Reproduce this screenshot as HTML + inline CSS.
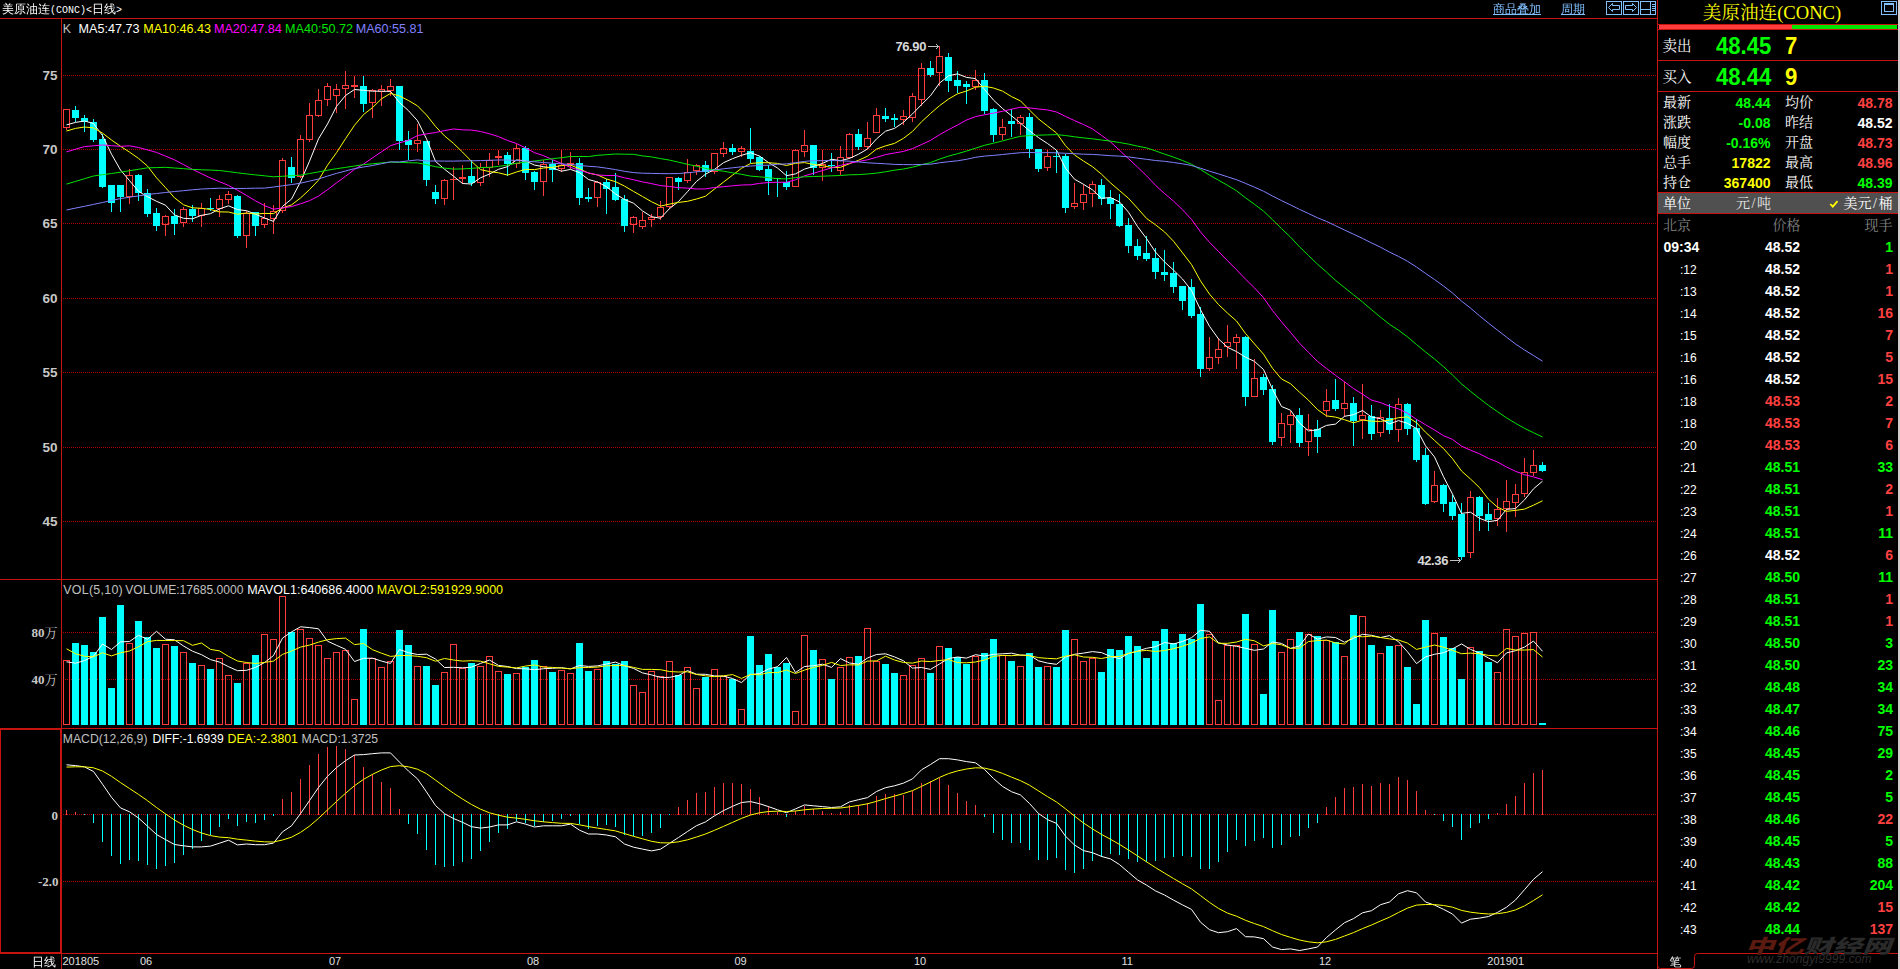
<!DOCTYPE html>
<html lang="zh-CN"><head><meta charset="utf-8"><title>美原油连(CONC) 日线</title>
<style>
html,body{margin:0;padding:0;background:#000;}
#app{position:relative;width:1900px;height:969px;background:#000;overflow:hidden;}
.t{position:absolute;white-space:nowrap;}
.m{font-family:'Liberation Mono',monospace;font-size:10px;}
.sl{display:inline-block;width:7px;text-align:center;}
</style></head><body>
<div id="app">
<svg width="1900" height="969" viewBox="0 0 1900 969" style="position:absolute;left:0;top:0">
<g stroke="#b00000" stroke-width="1" stroke-dasharray="1 1" shape-rendering="crispEdges">
<line x1="63" y1="75.5" x2="1657" y2="75.5"/>
<line x1="63" y1="149.5" x2="1657" y2="149.5"/>
<line x1="63" y1="223.5" x2="1657" y2="223.5"/>
<line x1="63" y1="298.5" x2="1657" y2="298.5"/>
<line x1="63" y1="372.5" x2="1657" y2="372.5"/>
<line x1="63" y1="447.5" x2="1657" y2="447.5"/>
<line x1="63" y1="521.5" x2="1657" y2="521.5"/>
<line x1="63" y1="632.5" x2="1657" y2="632.5"/>
<line x1="63" y1="679.5" x2="1657" y2="679.5"/>
<line x1="63" y1="814.5" x2="1657" y2="814.5"/>
<line x1="63" y1="881.5" x2="1657" y2="881.5"/>
</g>
<g shape-rendering="crispEdges">
<rect x="66" y="128" width="1" height="2" fill="#ff3c3c"/>
<rect x="63.5" y="109.5" width="6" height="18" fill="none" stroke="#ff3c3c" stroke-width="1"/>
<rect x="75" y="106" width="1" height="16" fill="#00ffff"/>
<rect x="72" y="110" width="7" height="8" fill="#00ffff"/>
<rect x="84" y="115" width="1" height="17" fill="#00ffff"/>
<rect x="81" y="118" width="7" height="4" fill="#00ffff"/>
<rect x="93" y="119" width="1" height="23" fill="#00ffff"/>
<rect x="90" y="122" width="7" height="18" fill="#00ffff"/>
<rect x="102" y="134" width="1" height="54" fill="#00ffff"/>
<rect x="99" y="139" width="7" height="48" fill="#00ffff"/>
<rect x="111" y="185" width="1" height="27" fill="#00ffff"/>
<rect x="108" y="185" width="7" height="18" fill="#00ffff"/>
<rect x="120" y="185" width="1" height="27" fill="#00ffff"/>
<rect x="117" y="185" width="7" height="12" fill="#00ffff"/>
<rect x="129" y="169" width="1" height="6" fill="#ff3c3c"/>
<rect x="129" y="197" width="1" height="7" fill="#ff3c3c"/>
<rect x="126.5" y="175.5" width="6" height="21" fill="none" stroke="#ff3c3c" stroke-width="1"/>
<rect x="138" y="174" width="1" height="27" fill="#00ffff"/>
<rect x="135" y="175" width="7" height="18" fill="#00ffff"/>
<rect x="147" y="189" width="1" height="28" fill="#00ffff"/>
<rect x="144" y="193" width="7" height="21" fill="#00ffff"/>
<rect x="156" y="208" width="1" height="23" fill="#00ffff"/>
<rect x="153" y="213" width="7" height="13" fill="#00ffff"/>
<rect x="165" y="215" width="1" height="1" fill="#ff3c3c"/>
<rect x="165" y="225" width="1" height="11" fill="#ff3c3c"/>
<rect x="162.5" y="216.5" width="6" height="8" fill="none" stroke="#ff3c3c" stroke-width="1"/>
<rect x="174" y="209" width="1" height="26" fill="#00ffff"/>
<rect x="171" y="216" width="7" height="8" fill="#00ffff"/>
<rect x="183" y="207" width="1" height="2" fill="#ff3c3c"/>
<rect x="183" y="223" width="1" height="4" fill="#ff3c3c"/>
<rect x="180.5" y="209.5" width="6" height="13" fill="none" stroke="#ff3c3c" stroke-width="1"/>
<rect x="192" y="205" width="1" height="17" fill="#00ffff"/>
<rect x="189" y="209" width="7" height="7" fill="#00ffff"/>
<rect x="201" y="203" width="1" height="5" fill="#ff3c3c"/>
<rect x="201" y="216" width="1" height="11" fill="#ff3c3c"/>
<rect x="198.5" y="208.5" width="6" height="7" fill="none" stroke="#ff3c3c" stroke-width="1"/>
<rect x="210" y="198" width="1" height="13" fill="#00ffff"/>
<rect x="207" y="208" width="7" height="1" fill="#00ffff"/>
<rect x="219" y="195" width="1" height="4" fill="#ff3c3c"/>
<rect x="219" y="209" width="1" height="8" fill="#ff3c3c"/>
<rect x="216.5" y="199.5" width="6" height="9" fill="none" stroke="#ff3c3c" stroke-width="1"/>
<rect x="228" y="191" width="1" height="3" fill="#ff3c3c"/>
<rect x="228" y="200" width="1" height="4" fill="#ff3c3c"/>
<rect x="225.5" y="194.5" width="6" height="5" fill="none" stroke="#ff3c3c" stroke-width="1"/>
<rect x="237" y="195" width="1" height="43" fill="#00ffff"/>
<rect x="234" y="196" width="7" height="40" fill="#00ffff"/>
<rect x="246" y="211" width="1" height="2" fill="#ff3c3c"/>
<rect x="246" y="236" width="1" height="12" fill="#ff3c3c"/>
<rect x="243.5" y="213.5" width="6" height="22" fill="none" stroke="#ff3c3c" stroke-width="1"/>
<rect x="255" y="212" width="1" height="24" fill="#00ffff"/>
<rect x="252" y="212" width="7" height="14" fill="#00ffff"/>
<rect x="264" y="203" width="1" height="15" fill="#ff3c3c"/>
<rect x="264" y="225" width="1" height="3" fill="#ff3c3c"/>
<rect x="261.5" y="218.5" width="6" height="6" fill="none" stroke="#ff3c3c" stroke-width="1"/>
<rect x="273" y="205" width="1" height="6" fill="#ff3c3c"/>
<rect x="273" y="219" width="1" height="15" fill="#ff3c3c"/>
<rect x="270.5" y="211.5" width="6" height="7" fill="none" stroke="#ff3c3c" stroke-width="1"/>
<rect x="282" y="158" width="1" height="2" fill="#ff3c3c"/>
<rect x="282" y="211" width="1" height="2" fill="#ff3c3c"/>
<rect x="279.5" y="160.5" width="6" height="50" fill="none" stroke="#ff3c3c" stroke-width="1"/>
<rect x="291" y="157" width="1" height="26" fill="#00ffff"/>
<rect x="288" y="167" width="7" height="11" fill="#00ffff"/>
<rect x="300" y="135" width="1" height="4" fill="#ff3c3c"/>
<rect x="300" y="177" width="1" height="1" fill="#ff3c3c"/>
<rect x="297.5" y="139.5" width="6" height="37" fill="none" stroke="#ff3c3c" stroke-width="1"/>
<rect x="309" y="103" width="1" height="12" fill="#ff3c3c"/>
<rect x="309" y="140" width="1" height="2" fill="#ff3c3c"/>
<rect x="306.5" y="115.5" width="6" height="24" fill="none" stroke="#ff3c3c" stroke-width="1"/>
<rect x="318" y="89" width="1" height="11" fill="#ff3c3c"/>
<rect x="318" y="116" width="1" height="1" fill="#ff3c3c"/>
<rect x="315.5" y="100.5" width="6" height="15" fill="none" stroke="#ff3c3c" stroke-width="1"/>
<rect x="327" y="83" width="1" height="3" fill="#ff3c3c"/>
<rect x="327" y="100" width="1" height="6" fill="#ff3c3c"/>
<rect x="324.5" y="86.5" width="6" height="13" fill="none" stroke="#ff3c3c" stroke-width="1"/>
<rect x="336" y="84" width="1" height="5" fill="#ff3c3c"/>
<rect x="336" y="96" width="1" height="17" fill="#ff3c3c"/>
<rect x="333.5" y="89.5" width="6" height="6" fill="none" stroke="#ff3c3c" stroke-width="1"/>
<rect x="345" y="71" width="1" height="14" fill="#ff3c3c"/>
<rect x="345" y="89" width="1" height="20" fill="#ff3c3c"/>
<rect x="342.5" y="85.5" width="6" height="3" fill="none" stroke="#ff3c3c" stroke-width="1"/>
<rect x="354" y="76" width="1" height="9" fill="#ff3c3c"/>
<rect x="354" y="87" width="1" height="11" fill="#ff3c3c"/>
<rect x="351" y="85" width="7" height="2" fill="#ff3c3c"/>
<rect x="363" y="76" width="1" height="36" fill="#00ffff"/>
<rect x="360" y="86" width="7" height="18" fill="#00ffff"/>
<rect x="372" y="89" width="1" height="1" fill="#ff3c3c"/>
<rect x="372" y="103" width="1" height="15" fill="#ff3c3c"/>
<rect x="369.5" y="90.5" width="6" height="12" fill="none" stroke="#ff3c3c" stroke-width="1"/>
<rect x="381" y="85" width="1" height="4" fill="#ff3c3c"/>
<rect x="381" y="92" width="1" height="14" fill="#ff3c3c"/>
<rect x="378.5" y="89.5" width="6" height="2" fill="none" stroke="#ff3c3c" stroke-width="1"/>
<rect x="390" y="79" width="1" height="7" fill="#ff3c3c"/>
<rect x="390" y="91" width="1" height="5" fill="#ff3c3c"/>
<rect x="387.5" y="86.5" width="6" height="4" fill="none" stroke="#ff3c3c" stroke-width="1"/>
<rect x="399" y="86" width="1" height="64" fill="#00ffff"/>
<rect x="396" y="86" width="7" height="55" fill="#00ffff"/>
<rect x="408" y="131" width="1" height="29" fill="#00ffff"/>
<rect x="405" y="140" width="7" height="5" fill="#00ffff"/>
<rect x="417" y="124" width="1" height="16" fill="#ff3c3c"/>
<rect x="417" y="144" width="1" height="8" fill="#ff3c3c"/>
<rect x="414.5" y="140.5" width="6" height="3" fill="none" stroke="#ff3c3c" stroke-width="1"/>
<rect x="426" y="141" width="1" height="45" fill="#00ffff"/>
<rect x="423" y="141" width="7" height="39" fill="#00ffff"/>
<rect x="435" y="185" width="1" height="19" fill="#00ffff"/>
<rect x="432" y="192" width="7" height="7" fill="#00ffff"/>
<rect x="444" y="179" width="1" height="1" fill="#ff3c3c"/>
<rect x="444" y="199" width="1" height="6" fill="#ff3c3c"/>
<rect x="441.5" y="180.5" width="6" height="18" fill="none" stroke="#ff3c3c" stroke-width="1"/>
<rect x="453" y="167" width="1" height="12" fill="#ff3c3c"/>
<rect x="453" y="180" width="1" height="20" fill="#ff3c3c"/>
<rect x="450" y="179" width="7" height="1" fill="#ff3c3c"/>
<rect x="462" y="165" width="1" height="12" fill="#ff3c3c"/>
<rect x="462" y="179" width="1" height="5" fill="#ff3c3c"/>
<rect x="459" y="177" width="7" height="2" fill="#ff3c3c"/>
<rect x="471" y="160" width="1" height="26" fill="#00ffff"/>
<rect x="468" y="176" width="7" height="7" fill="#00ffff"/>
<rect x="480" y="163" width="1" height="4" fill="#ff3c3c"/>
<rect x="480" y="183" width="1" height="3" fill="#ff3c3c"/>
<rect x="477.5" y="167.5" width="6" height="15" fill="none" stroke="#ff3c3c" stroke-width="1"/>
<rect x="489" y="153" width="1" height="7" fill="#ff3c3c"/>
<rect x="489" y="168" width="1" height="9" fill="#ff3c3c"/>
<rect x="486.5" y="160.5" width="6" height="7" fill="none" stroke="#ff3c3c" stroke-width="1"/>
<rect x="498" y="150" width="1" height="6" fill="#ff3c3c"/>
<rect x="498" y="158" width="1" height="7" fill="#ff3c3c"/>
<rect x="495" y="156" width="7" height="2" fill="#ff3c3c"/>
<rect x="507" y="152" width="1" height="24" fill="#00ffff"/>
<rect x="504" y="155" width="7" height="9" fill="#00ffff"/>
<rect x="516" y="144" width="1" height="4" fill="#ff3c3c"/>
<rect x="516" y="164" width="1" height="4" fill="#ff3c3c"/>
<rect x="513.5" y="148.5" width="6" height="15" fill="none" stroke="#ff3c3c" stroke-width="1"/>
<rect x="525" y="146" width="1" height="34" fill="#00ffff"/>
<rect x="522" y="148" width="7" height="25" fill="#00ffff"/>
<rect x="534" y="171" width="1" height="19" fill="#00ffff"/>
<rect x="531" y="172" width="7" height="10" fill="#00ffff"/>
<rect x="543" y="160" width="1" height="4" fill="#ff3c3c"/>
<rect x="543" y="182" width="1" height="14" fill="#ff3c3c"/>
<rect x="540.5" y="164.5" width="6" height="17" fill="none" stroke="#ff3c3c" stroke-width="1"/>
<rect x="552" y="160" width="1" height="22" fill="#00ffff"/>
<rect x="549" y="164" width="7" height="6" fill="#00ffff"/>
<rect x="561" y="150" width="1" height="15" fill="#ff3c3c"/>
<rect x="561" y="169" width="1" height="3" fill="#ff3c3c"/>
<rect x="558.5" y="165.5" width="6" height="3" fill="none" stroke="#ff3c3c" stroke-width="1"/>
<rect x="570" y="152" width="1" height="11" fill="#ff3c3c"/>
<rect x="570" y="165" width="1" height="4" fill="#ff3c3c"/>
<rect x="567" y="163" width="7" height="2" fill="#ff3c3c"/>
<rect x="579" y="158" width="1" height="47" fill="#00ffff"/>
<rect x="576" y="163" width="7" height="35" fill="#00ffff"/>
<rect x="588" y="188" width="1" height="14" fill="#00ffff"/>
<rect x="585" y="197" width="7" height="2" fill="#00ffff"/>
<rect x="597" y="181" width="1" height="1" fill="#ff3c3c"/>
<rect x="597" y="198" width="1" height="9" fill="#ff3c3c"/>
<rect x="594.5" y="182.5" width="6" height="15" fill="none" stroke="#ff3c3c" stroke-width="1"/>
<rect x="606" y="179" width="1" height="35" fill="#00ffff"/>
<rect x="603" y="182" width="7" height="7" fill="#00ffff"/>
<rect x="615" y="173" width="1" height="28" fill="#00ffff"/>
<rect x="612" y="187" width="7" height="13" fill="#00ffff"/>
<rect x="624" y="195" width="1" height="37" fill="#00ffff"/>
<rect x="621" y="199" width="7" height="27" fill="#00ffff"/>
<rect x="633" y="216" width="1" height="1" fill="#ff3c3c"/>
<rect x="633" y="225" width="1" height="8" fill="#ff3c3c"/>
<rect x="630.5" y="217.5" width="6" height="7" fill="none" stroke="#ff3c3c" stroke-width="1"/>
<rect x="642" y="212" width="1" height="8" fill="#ff3c3c"/>
<rect x="642" y="227" width="1" height="2" fill="#ff3c3c"/>
<rect x="639.5" y="220.5" width="6" height="6" fill="none" stroke="#ff3c3c" stroke-width="1"/>
<rect x="651" y="214" width="1" height="3" fill="#ff3c3c"/>
<rect x="651" y="220" width="1" height="7" fill="#ff3c3c"/>
<rect x="648.5" y="217.5" width="6" height="2" fill="none" stroke="#ff3c3c" stroke-width="1"/>
<rect x="660" y="201" width="1" height="6" fill="#ff3c3c"/>
<rect x="660" y="217" width="1" height="3" fill="#ff3c3c"/>
<rect x="657.5" y="207.5" width="6" height="9" fill="none" stroke="#ff3c3c" stroke-width="1"/>
<rect x="669" y="207" width="1" height="2" fill="#ff3c3c"/>
<rect x="666.5" y="177.5" width="6" height="29" fill="none" stroke="#ff3c3c" stroke-width="1"/>
<rect x="678" y="177" width="1" height="13" fill="#00ffff"/>
<rect x="675" y="178" width="7" height="4" fill="#00ffff"/>
<rect x="687" y="159" width="1" height="13" fill="#ff3c3c"/>
<rect x="687" y="181" width="1" height="2" fill="#ff3c3c"/>
<rect x="684.5" y="172.5" width="6" height="8" fill="none" stroke="#ff3c3c" stroke-width="1"/>
<rect x="696" y="164" width="1" height="1" fill="#ff3c3c"/>
<rect x="696" y="171" width="1" height="4" fill="#ff3c3c"/>
<rect x="693.5" y="165.5" width="6" height="5" fill="none" stroke="#ff3c3c" stroke-width="1"/>
<rect x="705" y="161" width="1" height="16" fill="#00ffff"/>
<rect x="702" y="165" width="7" height="7" fill="#00ffff"/>
<rect x="714" y="172" width="1" height="2" fill="#ff3c3c"/>
<rect x="711.5" y="153.5" width="6" height="18" fill="none" stroke="#ff3c3c" stroke-width="1"/>
<rect x="723" y="142" width="1" height="6" fill="#ff3c3c"/>
<rect x="723" y="154" width="1" height="3" fill="#ff3c3c"/>
<rect x="720.5" y="148.5" width="6" height="5" fill="none" stroke="#ff3c3c" stroke-width="1"/>
<rect x="732" y="144" width="1" height="11" fill="#00ffff"/>
<rect x="729" y="148" width="7" height="4" fill="#00ffff"/>
<rect x="741" y="146" width="1" height="2" fill="#ff3c3c"/>
<rect x="741" y="152" width="1" height="5" fill="#ff3c3c"/>
<rect x="738.5" y="148.5" width="6" height="3" fill="none" stroke="#ff3c3c" stroke-width="1"/>
<rect x="750" y="128" width="1" height="35" fill="#00ffff"/>
<rect x="747" y="151" width="7" height="8" fill="#00ffff"/>
<rect x="759" y="156" width="1" height="15" fill="#00ffff"/>
<rect x="756" y="157" width="7" height="13" fill="#00ffff"/>
<rect x="768" y="165" width="1" height="30" fill="#00ffff"/>
<rect x="765" y="169" width="7" height="12" fill="#00ffff"/>
<rect x="777" y="178" width="1" height="19" fill="#00ffff"/>
<rect x="774" y="178" width="7" height="1" fill="#00ffff"/>
<rect x="786" y="171" width="1" height="19" fill="#00ffff"/>
<rect x="783" y="182" width="7" height="5" fill="#00ffff"/>
<rect x="795" y="149" width="1" height="1" fill="#ff3c3c"/>
<rect x="792.5" y="150.5" width="6" height="36" fill="none" stroke="#ff3c3c" stroke-width="1"/>
<rect x="804" y="130" width="1" height="15" fill="#ff3c3c"/>
<rect x="804" y="152" width="1" height="5" fill="#ff3c3c"/>
<rect x="801.5" y="145.5" width="6" height="6" fill="none" stroke="#ff3c3c" stroke-width="1"/>
<rect x="813" y="145" width="1" height="30" fill="#00ffff"/>
<rect x="810" y="145" width="7" height="23" fill="#00ffff"/>
<rect x="822" y="150" width="1" height="14" fill="#ff3c3c"/>
<rect x="822" y="168" width="1" height="13" fill="#ff3c3c"/>
<rect x="819.5" y="164.5" width="6" height="3" fill="none" stroke="#ff3c3c" stroke-width="1"/>
<rect x="831" y="153" width="1" height="19" fill="#00ffff"/>
<rect x="828" y="165" width="7" height="1" fill="#00ffff"/>
<rect x="840" y="146" width="1" height="11" fill="#ff3c3c"/>
<rect x="840" y="171" width="1" height="4" fill="#ff3c3c"/>
<rect x="837.5" y="157.5" width="6" height="13" fill="none" stroke="#ff3c3c" stroke-width="1"/>
<rect x="849" y="133" width="1" height="1" fill="#ff3c3c"/>
<rect x="849" y="158" width="1" height="1" fill="#ff3c3c"/>
<rect x="846.5" y="134.5" width="6" height="23" fill="none" stroke="#ff3c3c" stroke-width="1"/>
<rect x="858" y="129" width="1" height="21" fill="#00ffff"/>
<rect x="855" y="134" width="7" height="13" fill="#00ffff"/>
<rect x="867" y="122" width="1" height="16" fill="#ff3c3c"/>
<rect x="867" y="147" width="1" height="2" fill="#ff3c3c"/>
<rect x="864.5" y="138.5" width="6" height="8" fill="none" stroke="#ff3c3c" stroke-width="1"/>
<rect x="876" y="108" width="1" height="7" fill="#ff3c3c"/>
<rect x="873.5" y="115.5" width="6" height="17" fill="none" stroke="#ff3c3c" stroke-width="1"/>
<rect x="885" y="108" width="1" height="14" fill="#00ffff"/>
<rect x="882" y="116" width="7" height="3" fill="#00ffff"/>
<rect x="894" y="114" width="1" height="13" fill="#00ffff"/>
<rect x="891" y="118" width="7" height="2" fill="#00ffff"/>
<rect x="903" y="110" width="1" height="6" fill="#ff3c3c"/>
<rect x="903" y="120" width="1" height="5" fill="#ff3c3c"/>
<rect x="900.5" y="116.5" width="6" height="3" fill="none" stroke="#ff3c3c" stroke-width="1"/>
<rect x="912" y="93" width="1" height="3" fill="#ff3c3c"/>
<rect x="912" y="118" width="1" height="4" fill="#ff3c3c"/>
<rect x="909.5" y="96.5" width="6" height="21" fill="none" stroke="#ff3c3c" stroke-width="1"/>
<rect x="921" y="63" width="1" height="5" fill="#ff3c3c"/>
<rect x="921" y="100" width="1" height="6" fill="#ff3c3c"/>
<rect x="918.5" y="68.5" width="6" height="31" fill="none" stroke="#ff3c3c" stroke-width="1"/>
<rect x="930" y="61" width="1" height="16" fill="#00ffff"/>
<rect x="927" y="68" width="7" height="7" fill="#00ffff"/>
<rect x="939" y="46" width="1" height="10" fill="#ff3c3c"/>
<rect x="939" y="73" width="1" height="13" fill="#ff3c3c"/>
<rect x="936.5" y="56.5" width="6" height="16" fill="none" stroke="#ff3c3c" stroke-width="1"/>
<rect x="948" y="53" width="1" height="39" fill="#00ffff"/>
<rect x="945" y="57" width="7" height="24" fill="#00ffff"/>
<rect x="957" y="71" width="1" height="22" fill="#00ffff"/>
<rect x="954" y="80" width="7" height="6" fill="#00ffff"/>
<rect x="966" y="81" width="1" height="23" fill="#00ffff"/>
<rect x="963" y="84" width="7" height="3" fill="#00ffff"/>
<rect x="975" y="70" width="1" height="10" fill="#ff3c3c"/>
<rect x="975" y="87" width="1" height="3" fill="#ff3c3c"/>
<rect x="972.5" y="80.5" width="6" height="6" fill="none" stroke="#ff3c3c" stroke-width="1"/>
<rect x="984" y="73" width="1" height="41" fill="#00ffff"/>
<rect x="981" y="80" width="7" height="31" fill="#00ffff"/>
<rect x="993" y="108" width="1" height="34" fill="#00ffff"/>
<rect x="990" y="109" width="7" height="26" fill="#00ffff"/>
<rect x="1002" y="119" width="1" height="8" fill="#ff3c3c"/>
<rect x="1002" y="135" width="1" height="5" fill="#ff3c3c"/>
<rect x="999.5" y="127.5" width="6" height="7" fill="none" stroke="#ff3c3c" stroke-width="1"/>
<rect x="1011" y="109" width="1" height="28" fill="#00ffff"/>
<rect x="1008" y="121" width="7" height="3" fill="#00ffff"/>
<rect x="1020" y="115" width="1" height="2" fill="#ff3c3c"/>
<rect x="1020" y="124" width="1" height="11" fill="#ff3c3c"/>
<rect x="1017.5" y="117.5" width="6" height="6" fill="none" stroke="#ff3c3c" stroke-width="1"/>
<rect x="1029" y="113" width="1" height="45" fill="#00ffff"/>
<rect x="1026" y="117" width="7" height="32" fill="#00ffff"/>
<rect x="1038" y="149" width="1" height="23" fill="#00ffff"/>
<rect x="1035" y="149" width="7" height="20" fill="#00ffff"/>
<rect x="1047" y="150" width="1" height="6" fill="#ff3c3c"/>
<rect x="1047" y="168" width="1" height="3" fill="#ff3c3c"/>
<rect x="1044.5" y="156.5" width="6" height="11" fill="none" stroke="#ff3c3c" stroke-width="1"/>
<rect x="1056" y="150" width="1" height="23" fill="#00ffff"/>
<rect x="1053" y="156" width="7" height="1" fill="#00ffff"/>
<rect x="1065" y="154" width="1" height="59" fill="#00ffff"/>
<rect x="1062" y="156" width="7" height="52" fill="#00ffff"/>
<rect x="1074" y="183" width="1" height="20" fill="#ff3c3c"/>
<rect x="1074" y="207" width="1" height="2" fill="#ff3c3c"/>
<rect x="1071.5" y="203.5" width="6" height="3" fill="none" stroke="#ff3c3c" stroke-width="1"/>
<rect x="1083" y="184" width="1" height="10" fill="#ff3c3c"/>
<rect x="1083" y="203" width="1" height="7" fill="#ff3c3c"/>
<rect x="1080.5" y="194.5" width="6" height="8" fill="none" stroke="#ff3c3c" stroke-width="1"/>
<rect x="1092" y="181" width="1" height="3" fill="#ff3c3c"/>
<rect x="1092" y="194" width="1" height="13" fill="#ff3c3c"/>
<rect x="1089.5" y="184.5" width="6" height="9" fill="none" stroke="#ff3c3c" stroke-width="1"/>
<rect x="1101" y="179" width="1" height="26" fill="#00ffff"/>
<rect x="1098" y="185" width="7" height="14" fill="#00ffff"/>
<rect x="1110" y="190" width="1" height="29" fill="#00ffff"/>
<rect x="1107" y="198" width="7" height="6" fill="#00ffff"/>
<rect x="1119" y="194" width="1" height="33" fill="#00ffff"/>
<rect x="1116" y="204" width="7" height="22" fill="#00ffff"/>
<rect x="1128" y="218" width="1" height="35" fill="#00ffff"/>
<rect x="1125" y="225" width="7" height="21" fill="#00ffff"/>
<rect x="1137" y="239" width="1" height="21" fill="#00ffff"/>
<rect x="1134" y="246" width="7" height="10" fill="#00ffff"/>
<rect x="1146" y="236" width="1" height="25" fill="#00ffff"/>
<rect x="1143" y="253" width="7" height="6" fill="#00ffff"/>
<rect x="1155" y="248" width="1" height="31" fill="#00ffff"/>
<rect x="1152" y="258" width="7" height="14" fill="#00ffff"/>
<rect x="1164" y="250" width="1" height="31" fill="#00ffff"/>
<rect x="1161" y="272" width="7" height="3" fill="#00ffff"/>
<rect x="1173" y="262" width="1" height="31" fill="#00ffff"/>
<rect x="1170" y="273" width="7" height="14" fill="#00ffff"/>
<rect x="1182" y="286" width="1" height="24" fill="#00ffff"/>
<rect x="1179" y="286" width="7" height="15" fill="#00ffff"/>
<rect x="1191" y="279" width="1" height="39" fill="#00ffff"/>
<rect x="1188" y="287" width="7" height="29" fill="#00ffff"/>
<rect x="1200" y="307" width="1" height="70" fill="#00ffff"/>
<rect x="1197" y="314" width="7" height="55" fill="#00ffff"/>
<rect x="1209" y="337" width="1" height="20" fill="#ff3c3c"/>
<rect x="1209" y="369" width="1" height="2" fill="#ff3c3c"/>
<rect x="1206.5" y="357.5" width="6" height="11" fill="none" stroke="#ff3c3c" stroke-width="1"/>
<rect x="1218" y="338" width="1" height="11" fill="#ff3c3c"/>
<rect x="1218" y="358" width="1" height="6" fill="#ff3c3c"/>
<rect x="1215.5" y="349.5" width="6" height="8" fill="none" stroke="#ff3c3c" stroke-width="1"/>
<rect x="1227" y="325" width="1" height="17" fill="#ff3c3c"/>
<rect x="1227" y="347" width="1" height="10" fill="#ff3c3c"/>
<rect x="1224.5" y="342.5" width="6" height="4" fill="none" stroke="#ff3c3c" stroke-width="1"/>
<rect x="1236" y="334" width="1" height="3" fill="#ff3c3c"/>
<rect x="1236" y="343" width="1" height="26" fill="#ff3c3c"/>
<rect x="1233.5" y="337.5" width="6" height="5" fill="none" stroke="#ff3c3c" stroke-width="1"/>
<rect x="1245" y="336" width="1" height="70" fill="#00ffff"/>
<rect x="1242" y="337" width="7" height="60" fill="#00ffff"/>
<rect x="1254" y="359" width="1" height="19" fill="#ff3c3c"/>
<rect x="1251.5" y="378.5" width="6" height="18" fill="none" stroke="#ff3c3c" stroke-width="1"/>
<rect x="1263" y="374" width="1" height="21" fill="#00ffff"/>
<rect x="1260" y="377" width="7" height="13" fill="#00ffff"/>
<rect x="1272" y="385" width="1" height="60" fill="#00ffff"/>
<rect x="1269" y="389" width="7" height="53" fill="#00ffff"/>
<rect x="1281" y="413" width="1" height="10" fill="#ff3c3c"/>
<rect x="1281" y="438" width="1" height="8" fill="#ff3c3c"/>
<rect x="1278.5" y="423.5" width="6" height="14" fill="none" stroke="#ff3c3c" stroke-width="1"/>
<rect x="1290" y="411" width="1" height="4" fill="#ff3c3c"/>
<rect x="1290" y="425" width="1" height="18" fill="#ff3c3c"/>
<rect x="1287.5" y="415.5" width="6" height="9" fill="none" stroke="#ff3c3c" stroke-width="1"/>
<rect x="1299" y="408" width="1" height="39" fill="#00ffff"/>
<rect x="1296" y="415" width="7" height="28" fill="#00ffff"/>
<rect x="1308" y="414" width="1" height="15" fill="#ff3c3c"/>
<rect x="1308" y="442" width="1" height="14" fill="#ff3c3c"/>
<rect x="1305.5" y="429.5" width="6" height="12" fill="none" stroke="#ff3c3c" stroke-width="1"/>
<rect x="1317" y="420" width="1" height="33" fill="#00ffff"/>
<rect x="1314" y="429" width="7" height="8" fill="#00ffff"/>
<rect x="1326" y="389" width="1" height="12" fill="#ff3c3c"/>
<rect x="1326" y="411" width="1" height="6" fill="#ff3c3c"/>
<rect x="1323.5" y="401.5" width="6" height="9" fill="none" stroke="#ff3c3c" stroke-width="1"/>
<rect x="1335" y="379" width="1" height="32" fill="#00ffff"/>
<rect x="1332" y="400" width="7" height="9" fill="#00ffff"/>
<rect x="1344" y="382" width="1" height="21" fill="#ff3c3c"/>
<rect x="1344" y="409" width="1" height="8" fill="#ff3c3c"/>
<rect x="1341.5" y="403.5" width="6" height="5" fill="none" stroke="#ff3c3c" stroke-width="1"/>
<rect x="1353" y="397" width="1" height="49" fill="#00ffff"/>
<rect x="1350" y="403" width="7" height="18" fill="#00ffff"/>
<rect x="1362" y="384" width="1" height="31" fill="#ff3c3c"/>
<rect x="1362" y="420" width="1" height="19" fill="#ff3c3c"/>
<rect x="1359.5" y="415.5" width="6" height="4" fill="none" stroke="#ff3c3c" stroke-width="1"/>
<rect x="1371" y="405" width="1" height="35" fill="#00ffff"/>
<rect x="1368" y="416" width="7" height="18" fill="#00ffff"/>
<rect x="1380" y="410" width="1" height="7" fill="#ff3c3c"/>
<rect x="1380" y="433" width="1" height="4" fill="#ff3c3c"/>
<rect x="1377.5" y="417.5" width="6" height="15" fill="none" stroke="#ff3c3c" stroke-width="1"/>
<rect x="1389" y="404" width="1" height="30" fill="#00ffff"/>
<rect x="1386" y="418" width="7" height="12" fill="#00ffff"/>
<rect x="1398" y="398" width="1" height="6" fill="#ff3c3c"/>
<rect x="1398" y="430" width="1" height="12" fill="#ff3c3c"/>
<rect x="1395.5" y="404.5" width="6" height="25" fill="none" stroke="#ff3c3c" stroke-width="1"/>
<rect x="1407" y="403" width="1" height="32" fill="#00ffff"/>
<rect x="1404" y="404" width="7" height="25" fill="#00ffff"/>
<rect x="1416" y="419" width="1" height="43" fill="#00ffff"/>
<rect x="1413" y="428" width="7" height="32" fill="#00ffff"/>
<rect x="1425" y="448" width="1" height="57" fill="#00ffff"/>
<rect x="1422" y="455" width="7" height="49" fill="#00ffff"/>
<rect x="1434" y="471" width="1" height="14" fill="#ff3c3c"/>
<rect x="1434" y="502" width="1" height="1" fill="#ff3c3c"/>
<rect x="1431.5" y="485.5" width="6" height="16" fill="none" stroke="#ff3c3c" stroke-width="1"/>
<rect x="1443" y="484" width="1" height="28" fill="#00ffff"/>
<rect x="1440" y="485" width="7" height="19" fill="#00ffff"/>
<rect x="1452" y="495" width="1" height="25" fill="#00ffff"/>
<rect x="1449" y="502" width="7" height="14" fill="#00ffff"/>
<rect x="1461" y="503" width="1" height="57" fill="#00ffff"/>
<rect x="1458" y="514" width="7" height="43" fill="#00ffff"/>
<rect x="1470" y="491" width="1" height="6" fill="#ff3c3c"/>
<rect x="1470" y="553" width="1" height="5" fill="#ff3c3c"/>
<rect x="1467.5" y="497.5" width="6" height="55" fill="none" stroke="#ff3c3c" stroke-width="1"/>
<rect x="1479" y="496" width="1" height="35" fill="#00ffff"/>
<rect x="1476" y="497" width="7" height="19" fill="#00ffff"/>
<rect x="1488" y="503" width="1" height="28" fill="#00ffff"/>
<rect x="1485" y="514" width="7" height="6" fill="#00ffff"/>
<rect x="1497" y="498" width="1" height="11" fill="#ff3c3c"/>
<rect x="1497" y="519" width="1" height="7" fill="#ff3c3c"/>
<rect x="1494.5" y="509.5" width="6" height="9" fill="none" stroke="#ff3c3c" stroke-width="1"/>
<rect x="1506" y="480" width="1" height="21" fill="#ff3c3c"/>
<rect x="1506" y="509" width="1" height="23" fill="#ff3c3c"/>
<rect x="1503.5" y="501.5" width="6" height="7" fill="none" stroke="#ff3c3c" stroke-width="1"/>
<rect x="1515" y="484" width="1" height="10" fill="#ff3c3c"/>
<rect x="1515" y="503" width="1" height="14" fill="#ff3c3c"/>
<rect x="1512.5" y="494.5" width="6" height="8" fill="none" stroke="#ff3c3c" stroke-width="1"/>
<rect x="1524" y="458" width="1" height="14" fill="#ff3c3c"/>
<rect x="1524" y="494" width="1" height="3" fill="#ff3c3c"/>
<rect x="1521.5" y="472.5" width="6" height="21" fill="none" stroke="#ff3c3c" stroke-width="1"/>
<rect x="1533" y="450" width="1" height="15" fill="#ff3c3c"/>
<rect x="1533" y="473" width="1" height="3" fill="#ff3c3c"/>
<rect x="1530.5" y="465.5" width="6" height="7" fill="none" stroke="#ff3c3c" stroke-width="1"/>
<rect x="1542" y="462" width="1" height="10" fill="#00ffff"/>
<rect x="1539" y="465" width="7" height="6" fill="#00ffff"/>
</g>
<g shape-rendering="crispEdges">
<rect x="63.5" y="660.5" width="6" height="64" fill="none" stroke="#ff3c3c" stroke-width="1"/>
<rect x="72" y="643" width="7" height="82" fill="#00ffff"/>
<rect x="81" y="645" width="7" height="80" fill="#00ffff"/>
<rect x="90" y="652" width="7" height="73" fill="#00ffff"/>
<rect x="99" y="617" width="7" height="108" fill="#00ffff"/>
<rect x="108" y="688" width="7" height="37" fill="#00ffff"/>
<rect x="117" y="605" width="7" height="120" fill="#00ffff"/>
<rect x="126.5" y="643.5" width="6" height="81" fill="none" stroke="#ff3c3c" stroke-width="1"/>
<rect x="135" y="621" width="7" height="104" fill="#00ffff"/>
<rect x="144" y="637" width="7" height="88" fill="#00ffff"/>
<rect x="153" y="648" width="7" height="77" fill="#00ffff"/>
<rect x="162.5" y="644.5" width="6" height="80" fill="none" stroke="#ff3c3c" stroke-width="1"/>
<rect x="171" y="646" width="7" height="79" fill="#00ffff"/>
<rect x="180.5" y="652.5" width="6" height="72" fill="none" stroke="#ff3c3c" stroke-width="1"/>
<rect x="189" y="663" width="7" height="62" fill="#00ffff"/>
<rect x="198.5" y="665.5" width="6" height="59" fill="none" stroke="#ff3c3c" stroke-width="1"/>
<rect x="207" y="669" width="7" height="56" fill="#00ffff"/>
<rect x="216.5" y="658.5" width="6" height="66" fill="none" stroke="#ff3c3c" stroke-width="1"/>
<rect x="225.5" y="675.5" width="6" height="49" fill="none" stroke="#ff3c3c" stroke-width="1"/>
<rect x="234" y="683" width="7" height="42" fill="#00ffff"/>
<rect x="243.5" y="663.5" width="6" height="61" fill="none" stroke="#ff3c3c" stroke-width="1"/>
<rect x="252" y="655" width="7" height="70" fill="#00ffff"/>
<rect x="261.5" y="634.5" width="6" height="90" fill="none" stroke="#ff3c3c" stroke-width="1"/>
<rect x="270.5" y="639.5" width="6" height="85" fill="none" stroke="#ff3c3c" stroke-width="1"/>
<rect x="279.5" y="596.5" width="6" height="128" fill="none" stroke="#ff3c3c" stroke-width="1"/>
<rect x="288" y="632" width="7" height="93" fill="#00ffff"/>
<rect x="297.5" y="629.5" width="6" height="95" fill="none" stroke="#ff3c3c" stroke-width="1"/>
<rect x="306.5" y="638.5" width="6" height="86" fill="none" stroke="#ff3c3c" stroke-width="1"/>
<rect x="315.5" y="645.5" width="6" height="79" fill="none" stroke="#ff3c3c" stroke-width="1"/>
<rect x="324.5" y="658.5" width="6" height="66" fill="none" stroke="#ff3c3c" stroke-width="1"/>
<rect x="333.5" y="652.5" width="6" height="72" fill="none" stroke="#ff3c3c" stroke-width="1"/>
<rect x="342.5" y="650.5" width="6" height="74" fill="none" stroke="#ff3c3c" stroke-width="1"/>
<rect x="351.5" y="699.5" width="6" height="25" fill="none" stroke="#ff3c3c" stroke-width="1"/>
<rect x="360" y="629" width="7" height="96" fill="#00ffff"/>
<rect x="369.5" y="658.5" width="6" height="66" fill="none" stroke="#ff3c3c" stroke-width="1"/>
<rect x="378.5" y="667.5" width="6" height="57" fill="none" stroke="#ff3c3c" stroke-width="1"/>
<rect x="387.5" y="661.5" width="6" height="63" fill="none" stroke="#ff3c3c" stroke-width="1"/>
<rect x="396" y="630" width="7" height="95" fill="#00ffff"/>
<rect x="405" y="645" width="7" height="80" fill="#00ffff"/>
<rect x="414.5" y="666.5" width="6" height="58" fill="none" stroke="#ff3c3c" stroke-width="1"/>
<rect x="423" y="666" width="7" height="59" fill="#00ffff"/>
<rect x="432" y="685" width="7" height="40" fill="#00ffff"/>
<rect x="441.5" y="672.5" width="6" height="52" fill="none" stroke="#ff3c3c" stroke-width="1"/>
<rect x="450.5" y="644.5" width="6" height="80" fill="none" stroke="#ff3c3c" stroke-width="1"/>
<rect x="459.5" y="668.5" width="6" height="56" fill="none" stroke="#ff3c3c" stroke-width="1"/>
<rect x="468" y="663" width="7" height="62" fill="#00ffff"/>
<rect x="477.5" y="666.5" width="6" height="58" fill="none" stroke="#ff3c3c" stroke-width="1"/>
<rect x="486.5" y="656.5" width="6" height="68" fill="none" stroke="#ff3c3c" stroke-width="1"/>
<rect x="495.5" y="671.5" width="6" height="53" fill="none" stroke="#ff3c3c" stroke-width="1"/>
<rect x="504" y="674" width="7" height="51" fill="#00ffff"/>
<rect x="513.5" y="673.5" width="6" height="51" fill="none" stroke="#ff3c3c" stroke-width="1"/>
<rect x="522" y="667" width="7" height="58" fill="#00ffff"/>
<rect x="531" y="660" width="7" height="65" fill="#00ffff"/>
<rect x="540.5" y="666.5" width="6" height="58" fill="none" stroke="#ff3c3c" stroke-width="1"/>
<rect x="549" y="672" width="7" height="53" fill="#00ffff"/>
<rect x="558.5" y="670.5" width="6" height="54" fill="none" stroke="#ff3c3c" stroke-width="1"/>
<rect x="567.5" y="673.5" width="6" height="51" fill="none" stroke="#ff3c3c" stroke-width="1"/>
<rect x="576" y="643" width="7" height="82" fill="#00ffff"/>
<rect x="585" y="671" width="7" height="54" fill="#00ffff"/>
<rect x="594.5" y="669.5" width="6" height="55" fill="none" stroke="#ff3c3c" stroke-width="1"/>
<rect x="603" y="661" width="7" height="64" fill="#00ffff"/>
<rect x="612" y="664" width="7" height="61" fill="#00ffff"/>
<rect x="621" y="661" width="7" height="64" fill="#00ffff"/>
<rect x="630.5" y="685.5" width="6" height="39" fill="none" stroke="#ff3c3c" stroke-width="1"/>
<rect x="639.5" y="692.5" width="6" height="32" fill="none" stroke="#ff3c3c" stroke-width="1"/>
<rect x="648.5" y="671.5" width="6" height="53" fill="none" stroke="#ff3c3c" stroke-width="1"/>
<rect x="657.5" y="676.5" width="6" height="48" fill="none" stroke="#ff3c3c" stroke-width="1"/>
<rect x="666.5" y="661.5" width="6" height="63" fill="none" stroke="#ff3c3c" stroke-width="1"/>
<rect x="675" y="675" width="7" height="50" fill="#00ffff"/>
<rect x="684.5" y="667.5" width="6" height="57" fill="none" stroke="#ff3c3c" stroke-width="1"/>
<rect x="693.5" y="688.5" width="6" height="36" fill="none" stroke="#ff3c3c" stroke-width="1"/>
<rect x="702" y="677" width="7" height="48" fill="#00ffff"/>
<rect x="711.5" y="669.5" width="6" height="55" fill="none" stroke="#ff3c3c" stroke-width="1"/>
<rect x="720.5" y="676.5" width="6" height="48" fill="none" stroke="#ff3c3c" stroke-width="1"/>
<rect x="729" y="679" width="7" height="46" fill="#00ffff"/>
<rect x="738.5" y="709.5" width="6" height="15" fill="none" stroke="#ff3c3c" stroke-width="1"/>
<rect x="747" y="636" width="7" height="89" fill="#00ffff"/>
<rect x="756" y="665" width="7" height="60" fill="#00ffff"/>
<rect x="765" y="654" width="7" height="71" fill="#00ffff"/>
<rect x="774" y="667" width="7" height="58" fill="#00ffff"/>
<rect x="783" y="663" width="7" height="62" fill="#00ffff"/>
<rect x="792.5" y="711.5" width="6" height="13" fill="none" stroke="#ff3c3c" stroke-width="1"/>
<rect x="801.5" y="635.5" width="6" height="89" fill="none" stroke="#ff3c3c" stroke-width="1"/>
<rect x="810" y="650" width="7" height="75" fill="#00ffff"/>
<rect x="819.5" y="659.5" width="6" height="65" fill="none" stroke="#ff3c3c" stroke-width="1"/>
<rect x="828" y="679" width="7" height="46" fill="#00ffff"/>
<rect x="837.5" y="667.5" width="6" height="57" fill="none" stroke="#ff3c3c" stroke-width="1"/>
<rect x="846.5" y="657.5" width="6" height="67" fill="none" stroke="#ff3c3c" stroke-width="1"/>
<rect x="855" y="656" width="7" height="69" fill="#00ffff"/>
<rect x="864.5" y="628.5" width="6" height="96" fill="none" stroke="#ff3c3c" stroke-width="1"/>
<rect x="873.5" y="661.5" width="6" height="63" fill="none" stroke="#ff3c3c" stroke-width="1"/>
<rect x="882" y="664" width="7" height="61" fill="#00ffff"/>
<rect x="891" y="673" width="7" height="52" fill="#00ffff"/>
<rect x="900.5" y="675.5" width="6" height="49" fill="none" stroke="#ff3c3c" stroke-width="1"/>
<rect x="909.5" y="665.5" width="6" height="59" fill="none" stroke="#ff3c3c" stroke-width="1"/>
<rect x="918.5" y="658.5" width="6" height="66" fill="none" stroke="#ff3c3c" stroke-width="1"/>
<rect x="927" y="673" width="7" height="52" fill="#00ffff"/>
<rect x="936.5" y="646.5" width="6" height="78" fill="none" stroke="#ff3c3c" stroke-width="1"/>
<rect x="945" y="648" width="7" height="77" fill="#00ffff"/>
<rect x="954" y="657" width="7" height="68" fill="#00ffff"/>
<rect x="963" y="664" width="7" height="61" fill="#00ffff"/>
<rect x="972.5" y="656.5" width="6" height="68" fill="none" stroke="#ff3c3c" stroke-width="1"/>
<rect x="981" y="653" width="7" height="72" fill="#00ffff"/>
<rect x="990" y="639" width="7" height="86" fill="#00ffff"/>
<rect x="999.5" y="655.5" width="6" height="69" fill="none" stroke="#ff3c3c" stroke-width="1"/>
<rect x="1008" y="661" width="7" height="64" fill="#00ffff"/>
<rect x="1017.5" y="666.5" width="6" height="58" fill="none" stroke="#ff3c3c" stroke-width="1"/>
<rect x="1026" y="653" width="7" height="72" fill="#00ffff"/>
<rect x="1035" y="667" width="7" height="58" fill="#00ffff"/>
<rect x="1044.5" y="666.5" width="6" height="58" fill="none" stroke="#ff3c3c" stroke-width="1"/>
<rect x="1053" y="667" width="7" height="58" fill="#00ffff"/>
<rect x="1062" y="630" width="7" height="95" fill="#00ffff"/>
<rect x="1071.5" y="639.5" width="6" height="85" fill="none" stroke="#ff3c3c" stroke-width="1"/>
<rect x="1080.5" y="661.5" width="6" height="63" fill="none" stroke="#ff3c3c" stroke-width="1"/>
<rect x="1089.5" y="658.5" width="6" height="66" fill="none" stroke="#ff3c3c" stroke-width="1"/>
<rect x="1098" y="672" width="7" height="53" fill="#00ffff"/>
<rect x="1107" y="649" width="7" height="76" fill="#00ffff"/>
<rect x="1116" y="650" width="7" height="75" fill="#00ffff"/>
<rect x="1125" y="636" width="7" height="89" fill="#00ffff"/>
<rect x="1134" y="646" width="7" height="79" fill="#00ffff"/>
<rect x="1143" y="658" width="7" height="67" fill="#00ffff"/>
<rect x="1152" y="641" width="7" height="84" fill="#00ffff"/>
<rect x="1161" y="629" width="7" height="96" fill="#00ffff"/>
<rect x="1170" y="643" width="7" height="82" fill="#00ffff"/>
<rect x="1179" y="634" width="7" height="91" fill="#00ffff"/>
<rect x="1188" y="639" width="7" height="86" fill="#00ffff"/>
<rect x="1197" y="604" width="7" height="121" fill="#00ffff"/>
<rect x="1206.5" y="634.5" width="6" height="90" fill="none" stroke="#ff3c3c" stroke-width="1"/>
<rect x="1215.5" y="700.5" width="6" height="24" fill="none" stroke="#ff3c3c" stroke-width="1"/>
<rect x="1224.5" y="645.5" width="6" height="79" fill="none" stroke="#ff3c3c" stroke-width="1"/>
<rect x="1233.5" y="645.5" width="6" height="79" fill="none" stroke="#ff3c3c" stroke-width="1"/>
<rect x="1242" y="614" width="7" height="111" fill="#00ffff"/>
<rect x="1251.5" y="644.5" width="6" height="80" fill="none" stroke="#ff3c3c" stroke-width="1"/>
<rect x="1260" y="694" width="7" height="31" fill="#00ffff"/>
<rect x="1269" y="610" width="7" height="115" fill="#00ffff"/>
<rect x="1278.5" y="652.5" width="6" height="72" fill="none" stroke="#ff3c3c" stroke-width="1"/>
<rect x="1287.5" y="639.5" width="6" height="85" fill="none" stroke="#ff3c3c" stroke-width="1"/>
<rect x="1296" y="632" width="7" height="93" fill="#00ffff"/>
<rect x="1305.5" y="634.5" width="6" height="90" fill="none" stroke="#ff3c3c" stroke-width="1"/>
<rect x="1314" y="636" width="7" height="89" fill="#00ffff"/>
<rect x="1323.5" y="640.5" width="6" height="84" fill="none" stroke="#ff3c3c" stroke-width="1"/>
<rect x="1332" y="642" width="7" height="83" fill="#00ffff"/>
<rect x="1341.5" y="656.5" width="6" height="68" fill="none" stroke="#ff3c3c" stroke-width="1"/>
<rect x="1350" y="615" width="7" height="110" fill="#00ffff"/>
<rect x="1359.5" y="616.5" width="6" height="108" fill="none" stroke="#ff3c3c" stroke-width="1"/>
<rect x="1368" y="645" width="7" height="80" fill="#00ffff"/>
<rect x="1377.5" y="653.5" width="6" height="71" fill="none" stroke="#ff3c3c" stroke-width="1"/>
<rect x="1386" y="646" width="7" height="79" fill="#00ffff"/>
<rect x="1395.5" y="645.5" width="6" height="79" fill="none" stroke="#ff3c3c" stroke-width="1"/>
<rect x="1404" y="667" width="7" height="58" fill="#00ffff"/>
<rect x="1413" y="704" width="7" height="21" fill="#00ffff"/>
<rect x="1422" y="620" width="7" height="105" fill="#00ffff"/>
<rect x="1431.5" y="633.5" width="6" height="91" fill="none" stroke="#ff3c3c" stroke-width="1"/>
<rect x="1440" y="637" width="7" height="88" fill="#00ffff"/>
<rect x="1449" y="648" width="7" height="77" fill="#00ffff"/>
<rect x="1458" y="679" width="7" height="46" fill="#00ffff"/>
<rect x="1467.5" y="647.5" width="6" height="77" fill="none" stroke="#ff3c3c" stroke-width="1"/>
<rect x="1476" y="651" width="7" height="74" fill="#00ffff"/>
<rect x="1485" y="662" width="7" height="63" fill="#00ffff"/>
<rect x="1494.5" y="672.5" width="6" height="52" fill="none" stroke="#ff3c3c" stroke-width="1"/>
<rect x="1503.5" y="629.5" width="6" height="95" fill="none" stroke="#ff3c3c" stroke-width="1"/>
<rect x="1512.5" y="636.5" width="6" height="88" fill="none" stroke="#ff3c3c" stroke-width="1"/>
<rect x="1521.5" y="633.5" width="6" height="91" fill="none" stroke="#ff3c3c" stroke-width="1"/>
<rect x="1530.5" y="632.5" width="6" height="92" fill="none" stroke="#ff3c3c" stroke-width="1"/>
<rect x="1539" y="723" width="7" height="2" fill="#00ffff"/>
</g>
<g shape-rendering="crispEdges">
<rect x="66" y="810" width="1" height="5" fill="#ff3c3c"/>
<rect x="75" y="812" width="1" height="3" fill="#ff3c3c"/>
<rect x="84" y="814" width="1" height="1" fill="#00ffff"/>
<rect x="93" y="814" width="1" height="9" fill="#00ffff"/>
<rect x="102" y="814" width="1" height="28" fill="#00ffff"/>
<rect x="111" y="814" width="1" height="42" fill="#00ffff"/>
<rect x="120" y="814" width="1" height="50" fill="#00ffff"/>
<rect x="129" y="814" width="1" height="46" fill="#00ffff"/>
<rect x="138" y="814" width="1" height="47" fill="#00ffff"/>
<rect x="147" y="814" width="1" height="51" fill="#00ffff"/>
<rect x="156" y="814" width="1" height="55" fill="#00ffff"/>
<rect x="165" y="814" width="1" height="52" fill="#00ffff"/>
<rect x="174" y="814" width="1" height="49" fill="#00ffff"/>
<rect x="183" y="814" width="1" height="41" fill="#00ffff"/>
<rect x="192" y="814" width="1" height="35" fill="#00ffff"/>
<rect x="201" y="814" width="1" height="27" fill="#00ffff"/>
<rect x="210" y="814" width="1" height="21" fill="#00ffff"/>
<rect x="219" y="814" width="1" height="13" fill="#00ffff"/>
<rect x="228" y="814" width="1" height="5" fill="#00ffff"/>
<rect x="237" y="814" width="1" height="12" fill="#00ffff"/>
<rect x="246" y="814" width="1" height="8" fill="#00ffff"/>
<rect x="255" y="814" width="1" height="9" fill="#00ffff"/>
<rect x="264" y="814" width="1" height="6" fill="#00ffff"/>
<rect x="273" y="814" width="1" height="2" fill="#00ffff"/>
<rect x="282" y="799" width="1" height="16" fill="#ff3c3c"/>
<rect x="291" y="792" width="1" height="23" fill="#ff3c3c"/>
<rect x="300" y="779" width="1" height="36" fill="#ff3c3c"/>
<rect x="309" y="765" width="1" height="50" fill="#ff3c3c"/>
<rect x="318" y="754" width="1" height="61" fill="#ff3c3c"/>
<rect x="327" y="747" width="1" height="68" fill="#ff3c3c"/>
<rect x="336" y="746" width="1" height="69" fill="#ff3c3c"/>
<rect x="345" y="749" width="1" height="66" fill="#ff3c3c"/>
<rect x="354" y="755" width="1" height="60" fill="#ff3c3c"/>
<rect x="363" y="767" width="1" height="48" fill="#ff3c3c"/>
<rect x="372" y="774" width="1" height="41" fill="#ff3c3c"/>
<rect x="381" y="782" width="1" height="33" fill="#ff3c3c"/>
<rect x="390" y="788" width="1" height="27" fill="#ff3c3c"/>
<rect x="399" y="809" width="1" height="6" fill="#ff3c3c"/>
<rect x="408" y="814" width="1" height="10" fill="#00ffff"/>
<rect x="417" y="814" width="1" height="20" fill="#00ffff"/>
<rect x="426" y="814" width="1" height="36" fill="#00ffff"/>
<rect x="435" y="814" width="1" height="51" fill="#00ffff"/>
<rect x="444" y="814" width="1" height="53" fill="#00ffff"/>
<rect x="453" y="814" width="1" height="52" fill="#00ffff"/>
<rect x="462" y="814" width="1" height="48" fill="#00ffff"/>
<rect x="471" y="814" width="1" height="45" fill="#00ffff"/>
<rect x="480" y="814" width="1" height="37" fill="#00ffff"/>
<rect x="489" y="814" width="1" height="28" fill="#00ffff"/>
<rect x="498" y="814" width="1" height="19" fill="#00ffff"/>
<rect x="507" y="814" width="1" height="15" fill="#00ffff"/>
<rect x="516" y="814" width="1" height="7" fill="#00ffff"/>
<rect x="525" y="814" width="1" height="9" fill="#00ffff"/>
<rect x="534" y="814" width="1" height="12" fill="#00ffff"/>
<rect x="543" y="814" width="1" height="8" fill="#00ffff"/>
<rect x="552" y="814" width="1" height="7" fill="#00ffff"/>
<rect x="561" y="814" width="1" height="5" fill="#00ffff"/>
<rect x="570" y="814" width="1" height="2" fill="#00ffff"/>
<rect x="579" y="814" width="1" height="10" fill="#00ffff"/>
<rect x="588" y="814" width="1" height="15" fill="#00ffff"/>
<rect x="597" y="814" width="1" height="12" fill="#00ffff"/>
<rect x="606" y="814" width="1" height="11" fill="#00ffff"/>
<rect x="615" y="814" width="1" height="13" fill="#00ffff"/>
<rect x="624" y="814" width="1" height="21" fill="#00ffff"/>
<rect x="633" y="814" width="1" height="22" fill="#00ffff"/>
<rect x="642" y="814" width="1" height="22" fill="#00ffff"/>
<rect x="651" y="814" width="1" height="19" fill="#00ffff"/>
<rect x="660" y="814" width="1" height="14" fill="#00ffff"/>
<rect x="669" y="814" width="1" height="1" fill="#00ffff"/>
<rect x="678" y="807" width="1" height="8" fill="#ff3c3c"/>
<rect x="687" y="800" width="1" height="15" fill="#ff3c3c"/>
<rect x="696" y="793" width="1" height="22" fill="#ff3c3c"/>
<rect x="705" y="792" width="1" height="23" fill="#ff3c3c"/>
<rect x="714" y="787" width="1" height="28" fill="#ff3c3c"/>
<rect x="723" y="783" width="1" height="32" fill="#ff3c3c"/>
<rect x="732" y="783" width="1" height="32" fill="#ff3c3c"/>
<rect x="741" y="784" width="1" height="31" fill="#ff3c3c"/>
<rect x="750" y="789" width="1" height="26" fill="#ff3c3c"/>
<rect x="759" y="797" width="1" height="18" fill="#ff3c3c"/>
<rect x="768" y="806" width="1" height="9" fill="#ff3c3c"/>
<rect x="777" y="812" width="1" height="3" fill="#ff3c3c"/>
<rect x="786" y="814" width="1" height="3" fill="#00ffff"/>
<rect x="795" y="811" width="1" height="4" fill="#ff3c3c"/>
<rect x="804" y="806" width="1" height="9" fill="#ff3c3c"/>
<rect x="813" y="809" width="1" height="6" fill="#ff3c3c"/>
<rect x="822" y="811" width="1" height="4" fill="#ff3c3c"/>
<rect x="831" y="813" width="1" height="2" fill="#ff3c3c"/>
<rect x="840" y="812" width="1" height="3" fill="#ff3c3c"/>
<rect x="849" y="805" width="1" height="10" fill="#ff3c3c"/>
<rect x="858" y="805" width="1" height="10" fill="#ff3c3c"/>
<rect x="867" y="803" width="1" height="12" fill="#ff3c3c"/>
<rect x="876" y="796" width="1" height="19" fill="#ff3c3c"/>
<rect x="885" y="794" width="1" height="21" fill="#ff3c3c"/>
<rect x="894" y="794" width="1" height="21" fill="#ff3c3c"/>
<rect x="903" y="795" width="1" height="20" fill="#ff3c3c"/>
<rect x="912" y="791" width="1" height="24" fill="#ff3c3c"/>
<rect x="921" y="783" width="1" height="32" fill="#ff3c3c"/>
<rect x="930" y="781" width="1" height="34" fill="#ff3c3c"/>
<rect x="939" y="778" width="1" height="37" fill="#ff3c3c"/>
<rect x="948" y="785" width="1" height="30" fill="#ff3c3c"/>
<rect x="957" y="793" width="1" height="22" fill="#ff3c3c"/>
<rect x="966" y="801" width="1" height="14" fill="#ff3c3c"/>
<rect x="975" y="805" width="1" height="10" fill="#ff3c3c"/>
<rect x="984" y="814" width="1" height="3" fill="#00ffff"/>
<rect x="993" y="814" width="1" height="19" fill="#00ffff"/>
<rect x="1002" y="814" width="1" height="26" fill="#00ffff"/>
<rect x="1011" y="814" width="1" height="29" fill="#00ffff"/>
<rect x="1020" y="814" width="1" height="29" fill="#00ffff"/>
<rect x="1029" y="814" width="1" height="36" fill="#00ffff"/>
<rect x="1038" y="814" width="1" height="46" fill="#00ffff"/>
<rect x="1047" y="814" width="1" height="46" fill="#00ffff"/>
<rect x="1056" y="814" width="1" height="44" fill="#00ffff"/>
<rect x="1065" y="814" width="1" height="56" fill="#00ffff"/>
<rect x="1074" y="814" width="1" height="59" fill="#00ffff"/>
<rect x="1083" y="814" width="1" height="55" fill="#00ffff"/>
<rect x="1092" y="814" width="1" height="47" fill="#00ffff"/>
<rect x="1101" y="814" width="1" height="43" fill="#00ffff"/>
<rect x="1110" y="814" width="1" height="40" fill="#00ffff"/>
<rect x="1119" y="814" width="1" height="41" fill="#00ffff"/>
<rect x="1128" y="814" width="1" height="45" fill="#00ffff"/>
<rect x="1137" y="814" width="1" height="48" fill="#00ffff"/>
<rect x="1146" y="814" width="1" height="48" fill="#00ffff"/>
<rect x="1155" y="814" width="1" height="47" fill="#00ffff"/>
<rect x="1164" y="814" width="1" height="44" fill="#00ffff"/>
<rect x="1173" y="814" width="1" height="43" fill="#00ffff"/>
<rect x="1182" y="814" width="1" height="42" fill="#00ffff"/>
<rect x="1191" y="814" width="1" height="43" fill="#00ffff"/>
<rect x="1200" y="814" width="1" height="55" fill="#00ffff"/>
<rect x="1209" y="814" width="1" height="55" fill="#00ffff"/>
<rect x="1218" y="814" width="1" height="48" fill="#00ffff"/>
<rect x="1227" y="814" width="1" height="38" fill="#00ffff"/>
<rect x="1236" y="814" width="1" height="26" fill="#00ffff"/>
<rect x="1245" y="814" width="1" height="32" fill="#00ffff"/>
<rect x="1254" y="814" width="1" height="27" fill="#00ffff"/>
<rect x="1263" y="814" width="1" height="24" fill="#00ffff"/>
<rect x="1272" y="814" width="1" height="34" fill="#00ffff"/>
<rect x="1281" y="814" width="1" height="31" fill="#00ffff"/>
<rect x="1290" y="814" width="1" height="23" fill="#00ffff"/>
<rect x="1299" y="814" width="1" height="22" fill="#00ffff"/>
<rect x="1308" y="814" width="1" height="14" fill="#00ffff"/>
<rect x="1317" y="814" width="1" height="9" fill="#00ffff"/>
<rect x="1326" y="807" width="1" height="8" fill="#ff3c3c"/>
<rect x="1335" y="797" width="1" height="18" fill="#ff3c3c"/>
<rect x="1344" y="788" width="1" height="27" fill="#ff3c3c"/>
<rect x="1353" y="787" width="1" height="28" fill="#ff3c3c"/>
<rect x="1362" y="784" width="1" height="31" fill="#ff3c3c"/>
<rect x="1371" y="786" width="1" height="29" fill="#ff3c3c"/>
<rect x="1380" y="783" width="1" height="32" fill="#ff3c3c"/>
<rect x="1389" y="784" width="1" height="31" fill="#ff3c3c"/>
<rect x="1398" y="777" width="1" height="38" fill="#ff3c3c"/>
<rect x="1407" y="780" width="1" height="35" fill="#ff3c3c"/>
<rect x="1416" y="791" width="1" height="24" fill="#ff3c3c"/>
<rect x="1425" y="810" width="1" height="5" fill="#ff3c3c"/>
<rect x="1434" y="814" width="1" height="1" fill="#00ffff"/>
<rect x="1443" y="814" width="1" height="7" fill="#00ffff"/>
<rect x="1452" y="814" width="1" height="13" fill="#00ffff"/>
<rect x="1461" y="814" width="1" height="26" fill="#00ffff"/>
<rect x="1470" y="814" width="1" height="14" fill="#00ffff"/>
<rect x="1479" y="814" width="1" height="9" fill="#00ffff"/>
<rect x="1488" y="814" width="1" height="5" fill="#00ffff"/>
<rect x="1497" y="813" width="1" height="2" fill="#ff3c3c"/>
<rect x="1506" y="804" width="1" height="11" fill="#ff3c3c"/>
<rect x="1515" y="796" width="1" height="19" fill="#ff3c3c"/>
<rect x="1524" y="783" width="1" height="32" fill="#ff3c3c"/>
<rect x="1533" y="773" width="1" height="42" fill="#ff3c3c"/>
<rect x="1542" y="770" width="1" height="45" fill="#ff3c3c"/>
</g>
<polyline points="66.5,124.9 75.5,122.4 84.5,121.0 93.5,123.5 102.5,135.6 111.5,154.2 120.5,170.0 129.5,180.6 138.5,191.3 147.5,196.7 156.5,201.3 165.5,205.2 174.5,214.9 183.5,218.3 192.5,218.8 201.5,215.3 210.5,213.7 219.5,208.9 228.5,205.8 237.5,209.6 246.5,210.7 255.5,214.2 264.5,218.0 273.5,221.4 282.5,206.4 291.5,199.1 300.5,181.8 309.5,161.2 318.5,138.9 327.5,124.0 336.5,106.4 345.5,95.5 354.5,89.5 363.5,90.3 372.5,91.2 381.5,91.2 390.5,91.4 399.5,102.5 408.5,110.7 417.5,120.7 426.5,138.8 435.5,161.4 444.5,169.2 453.5,176.2 462.5,183.5 471.5,184.0 480.5,177.8 489.5,174.0 498.5,169.3 507.5,166.7 516.5,159.9 525.5,160.9 534.5,165.1 543.5,166.7 552.5,167.9 561.5,171.2 570.5,169.4 579.5,172.6 588.5,179.5 597.5,182.0 606.5,186.7 615.5,194.0 624.5,199.5 633.5,203.2 642.5,210.9 651.5,216.7 660.5,218.2 669.5,208.6 678.5,201.5 687.5,191.7 696.5,181.4 705.5,174.2 714.5,169.4 723.5,162.7 732.5,158.7 741.5,155.3 750.5,152.7 759.5,156.0 768.5,162.6 777.5,168.0 786.5,175.7 795.5,173.9 804.5,169.1 813.5,166.4 822.5,163.4 831.5,159.2 840.5,160.7 849.5,158.4 858.5,154.2 867.5,149.0 876.5,138.9 885.5,131.2 894.5,128.4 903.5,122.3 912.5,113.9 921.5,104.6 930.5,95.7 939.5,83.1 948.5,75.9 957.5,73.8 966.5,77.4 975.5,78.6 984.5,89.4 993.5,100.1 1002.5,108.5 1011.5,115.8 1020.5,123.2 1029.5,130.8 1038.5,137.6 1047.5,143.5 1056.5,150.2 1065.5,168.2 1074.5,179.2 1083.5,184.3 1092.5,189.9 1101.5,198.3 1110.5,197.5 1119.5,202.0 1128.5,212.2 1137.5,226.5 1146.5,238.5 1155.5,252.1 1164.5,261.9 1173.5,270.1 1182.5,279.0 1191.5,290.5 1200.5,309.8 1209.5,326.3 1218.5,338.9 1227.5,347.3 1236.5,351.6 1245.5,357.2 1254.5,361.4 1263.5,369.5 1272.5,389.3 1281.5,406.5 1290.5,410.2 1299.5,423.0 1308.5,430.9 1317.5,429.8 1326.5,425.4 1335.5,424.1 1344.5,416.3 1353.5,414.7 1362.5,410.5 1371.5,417.0 1380.5,418.7 1389.5,423.9 1398.5,420.6 1407.5,423.3 1416.5,428.5 1425.5,445.8 1434.5,456.9 1443.5,476.7 1452.5,494.1 1461.5,513.4 1470.5,512.2 1479.5,518.3 1488.5,521.7 1497.5,520.3 1506.5,509.3 1515.5,508.6 1524.5,499.9 1533.5,488.8 1542.5,481.2" fill="none" stroke="#ffffff" stroke-width="1" stroke-linejoin="round"/>
<polyline points="66.5,131.0 75.5,128.4 84.5,127.0 93.5,127.9 102.5,133.1 111.5,140.0 120.5,146.3 129.5,152.1 138.5,158.4 147.5,166.1 156.5,177.8 165.5,187.6 174.5,197.8 183.5,204.8 192.5,207.8 201.5,208.3 210.5,209.5 219.5,211.9 228.5,212.0 237.5,214.2 246.5,213.0 255.5,214.0 264.5,213.4 273.5,213.6 282.5,208.0 291.5,204.9 300.5,198.0 309.5,189.6 318.5,180.2 327.5,165.2 336.5,152.7 345.5,138.7 354.5,125.3 363.5,114.6 372.5,107.6 381.5,98.8 390.5,93.4 399.5,96.0 408.5,100.5 417.5,105.9 426.5,115.0 435.5,126.4 444.5,135.9 453.5,143.4 462.5,152.1 471.5,161.4 480.5,169.6 489.5,171.6 498.5,172.8 507.5,175.1 516.5,172.0 525.5,169.4 534.5,169.6 543.5,168.0 552.5,167.3 561.5,165.6 570.5,165.1 579.5,168.8 588.5,173.1 597.5,174.9 606.5,179.0 615.5,181.7 624.5,186.1 633.5,191.4 642.5,196.5 651.5,201.7 660.5,206.1 669.5,204.1 678.5,202.4 687.5,201.3 696.5,199.0 705.5,196.2 714.5,189.0 723.5,182.1 732.5,175.2 741.5,168.3 750.5,163.5 759.5,162.7 768.5,162.7 777.5,163.4 786.5,165.5 795.5,163.3 804.5,162.6 813.5,164.5 822.5,165.7 831.5,167.4 840.5,167.3 849.5,163.7 858.5,160.3 867.5,156.2 876.5,149.1 885.5,145.9 894.5,143.4 903.5,138.3 912.5,131.4 921.5,121.8 930.5,113.5 939.5,105.7 948.5,99.1 957.5,93.8 966.5,91.0 975.5,87.2 984.5,86.2 993.5,88.0 1002.5,91.1 1011.5,96.6 1020.5,100.9 1029.5,110.1 1038.5,118.9 1047.5,126.0 1056.5,133.0 1065.5,145.7 1074.5,155.0 1083.5,161.0 1092.5,166.7 1101.5,174.2 1110.5,182.9 1119.5,190.6 1128.5,198.3 1137.5,208.2 1146.5,218.4 1155.5,224.8 1164.5,231.9 1173.5,241.2 1182.5,252.8 1191.5,264.5 1200.5,280.9 1209.5,294.1 1218.5,304.5 1227.5,313.1 1236.5,321.0 1245.5,333.5 1254.5,343.9 1263.5,354.2 1272.5,368.3 1281.5,379.0 1290.5,383.7 1299.5,392.2 1308.5,400.2 1317.5,409.6 1326.5,415.9 1335.5,417.1 1344.5,419.7 1353.5,422.8 1362.5,420.1 1371.5,421.2 1380.5,421.4 1389.5,420.1 1398.5,417.7 1407.5,416.9 1416.5,422.7 1425.5,432.2 1434.5,440.4 1443.5,448.6 1452.5,458.7 1461.5,471.0 1470.5,479.0 1479.5,487.6 1488.5,499.2 1497.5,507.2 1506.5,511.3 1515.5,510.4 1524.5,509.1 1533.5,505.2 1542.5,500.8" fill="none" stroke="#ffff00" stroke-width="1" stroke-linejoin="round"/>
<polyline points="66.5,151.9 75.5,149.2 84.5,146.6 93.5,145.8 102.5,145.0 111.5,145.7 120.5,146.3 129.5,145.8 138.5,147.5 147.5,149.9 156.5,152.4 165.5,156.1 174.5,159.8 183.5,164.6 192.5,169.4 201.5,173.7 210.5,178.0 219.5,181.7 228.5,185.4 237.5,190.2 246.5,195.4 255.5,200.8 264.5,205.6 273.5,209.2 282.5,207.9 291.5,206.6 300.5,203.8 309.5,200.7 318.5,196.1 327.5,189.7 336.5,182.9 345.5,176.3 354.5,169.4 363.5,164.1 372.5,157.8 381.5,151.8 390.5,145.7 399.5,142.8 408.5,140.3 417.5,135.6 426.5,133.9 435.5,132.5 444.5,130.6 453.5,129.0 462.5,129.8 471.5,130.1 480.5,131.5 489.5,133.8 498.5,136.6 507.5,140.5 516.5,143.5 525.5,147.9 534.5,152.7 543.5,155.7 552.5,159.7 561.5,163.5 570.5,167.4 579.5,170.2 588.5,172.9 597.5,175.0 606.5,175.5 615.5,175.5 624.5,177.8 633.5,179.7 642.5,181.9 651.5,183.6 660.5,185.6 669.5,186.5 678.5,187.7 687.5,188.1 696.5,189.0 705.5,188.9 714.5,187.5 723.5,186.7 732.5,185.8 741.5,185.0 750.5,184.8 759.5,183.4 768.5,182.5 777.5,182.3 786.5,182.3 795.5,179.8 804.5,175.8 813.5,173.3 822.5,170.5 831.5,167.9 840.5,165.4 849.5,163.2 858.5,161.5 867.5,159.8 876.5,157.3 885.5,154.6 894.5,153.0 903.5,151.4 912.5,148.6 921.5,144.6 930.5,140.4 939.5,134.7 948.5,129.7 957.5,125.0 966.5,120.0 975.5,116.6 984.5,114.8 993.5,113.1 1002.5,111.3 1011.5,109.2 1020.5,107.2 1029.5,107.9 1038.5,109.0 1047.5,109.9 1056.5,112.0 1065.5,116.4 1074.5,120.6 1083.5,124.5 1092.5,128.9 1101.5,135.4 1110.5,141.9 1119.5,150.3 1128.5,158.6 1137.5,167.1 1146.5,175.7 1155.5,185.3 1164.5,193.5 1173.5,201.1 1182.5,209.7 1191.5,219.4 1200.5,231.9 1209.5,242.3 1218.5,251.4 1227.5,260.7 1236.5,269.7 1245.5,279.2 1254.5,287.9 1263.5,297.7 1272.5,310.5 1281.5,321.8 1290.5,332.3 1299.5,343.2 1308.5,352.3 1317.5,361.4 1326.5,368.5 1335.5,375.3 1344.5,381.8 1353.5,388.5 1362.5,394.2 1371.5,400.1 1380.5,402.6 1389.5,406.2 1398.5,408.9 1407.5,413.2 1416.5,419.3 1425.5,424.7 1434.5,430.0 1443.5,435.7 1452.5,439.4 1461.5,446.1 1470.5,450.2 1479.5,453.8 1488.5,458.4 1497.5,462.0 1506.5,467.0 1515.5,471.3 1524.5,474.7 1533.5,476.9 1542.5,479.7" fill="none" stroke="#ff00ff" stroke-width="1" stroke-linejoin="round"/>
<polyline points="66.5,184.1 75.5,181.4 84.5,178.7 93.5,176.0 102.5,174.7 111.5,173.5 120.5,172.2 129.5,170.7 138.5,169.3 147.5,167.8 156.5,167.6 165.5,167.3 174.5,168.0 183.5,168.7 192.5,169.4 201.5,169.8 210.5,170.1 219.5,170.5 228.5,171.6 237.5,172.8 246.5,173.9 255.5,174.9 264.5,175.8 273.5,176.8 282.5,176.3 291.5,175.7 300.5,175.2 309.5,173.5 318.5,171.9 327.5,170.2 336.5,168.7 345.5,167.4 354.5,166.0 363.5,164.7 372.5,163.8 381.5,162.9 390.5,162.1 399.5,162.4 408.5,162.7 417.5,162.9 426.5,164.6 435.5,166.7 444.5,168.1 453.5,169.1 462.5,168.9 471.5,168.4 480.5,167.6 489.5,167.3 498.5,166.4 507.5,165.1 516.5,163.2 525.5,162.1 534.5,161.0 543.5,159.9 552.5,158.7 561.5,157.7 570.5,156.5 579.5,156.5 588.5,156.6 597.5,155.3 606.5,154.7 615.5,154.0 624.5,154.2 633.5,154.3 642.5,155.9 651.5,156.9 660.5,158.6 669.5,160.1 678.5,162.2 687.5,164.3 696.5,166.2 705.5,168.4 714.5,170.1 723.5,171.2 732.5,172.8 741.5,174.3 750.5,176.1 759.5,176.8 768.5,177.7 777.5,178.7 786.5,178.9 795.5,177.6 804.5,176.8 813.5,176.5 822.5,176.2 831.5,175.8 840.5,175.5 849.5,174.8 858.5,174.6 867.5,174.0 876.5,173.1 885.5,171.8 894.5,170.2 903.5,169.0 912.5,167.2 921.5,164.8 930.5,162.6 939.5,159.1 948.5,156.1 957.5,153.7 966.5,151.1 975.5,148.2 984.5,145.3 993.5,143.2 1002.5,140.9 1011.5,138.5 1020.5,136.3 1029.5,135.6 1038.5,135.2 1047.5,134.9 1056.5,134.6 1065.5,135.5 1074.5,136.8 1083.5,137.9 1092.5,138.8 1101.5,140.0 1110.5,141.1 1119.5,142.5 1128.5,144.1 1137.5,146.1 1146.5,147.9 1155.5,150.9 1164.5,154.1 1173.5,157.1 1182.5,160.5 1191.5,164.3 1200.5,169.5 1209.5,175.1 1218.5,180.2 1227.5,185.3 1236.5,190.8 1245.5,197.8 1254.5,204.3 1263.5,211.1 1272.5,219.7 1281.5,228.6 1290.5,237.1 1299.5,246.8 1308.5,255.5 1317.5,264.2 1326.5,272.1 1335.5,280.3 1344.5,287.6 1353.5,294.8 1362.5,302.0 1371.5,309.7 1380.5,317.2 1389.5,324.3 1398.5,330.2 1407.5,336.9 1416.5,344.5 1425.5,351.9 1434.5,359.0 1443.5,366.7 1452.5,375.0 1461.5,383.9 1470.5,391.3 1479.5,398.5 1488.5,405.4 1497.5,411.7 1506.5,417.8 1515.5,423.3 1524.5,428.3 1533.5,432.7 1542.5,437.0" fill="none" stroke="#00e600" stroke-width="1" stroke-linejoin="round"/>
<polyline points="66.5,210.0 75.5,208.1 84.5,206.3 93.5,204.4 102.5,202.5 111.5,200.5 120.5,198.6 129.5,197.2 138.5,195.9 147.5,194.5 156.5,193.5 165.5,192.5 174.5,191.5 183.5,190.7 192.5,189.8 201.5,189.0 210.5,188.6 219.5,188.2 228.5,188.4 237.5,188.5 246.5,188.4 255.5,188.2 264.5,188.1 273.5,187.0 282.5,185.8 291.5,184.6 300.5,183.2 309.5,181.1 318.5,179.0 327.5,176.1 336.5,173.4 345.5,171.0 354.5,168.6 363.5,167.0 372.5,165.5 381.5,163.7 390.5,161.9 399.5,161.9 408.5,160.9 417.5,159.9 426.5,161.0 435.5,161.0 444.5,161.1 453.5,161.1 462.5,160.9 471.5,160.8 480.5,160.6 489.5,160.3 498.5,160.0 507.5,160.0 516.5,160.5 525.5,161.0 534.5,161.8 543.5,162.5 552.5,163.2 561.5,163.8 570.5,164.5 579.5,165.4 588.5,166.3 597.5,166.9 606.5,168.2 615.5,169.6 624.5,171.3 633.5,172.6 642.5,173.2 651.5,173.4 660.5,173.6 669.5,173.7 678.5,173.5 687.5,172.8 696.5,171.8 705.5,171.0 714.5,169.9 723.5,168.8 732.5,167.8 741.5,166.8 750.5,166.0 759.5,165.5 768.5,165.2 777.5,164.3 786.5,163.9 795.5,162.6 804.5,161.4 813.5,160.7 822.5,160.7 831.5,160.5 840.5,160.8 849.5,161.2 858.5,161.9 867.5,162.8 876.5,163.3 885.5,163.8 894.5,164.4 903.5,164.6 912.5,164.7 921.5,164.4 930.5,164.2 939.5,162.8 948.5,161.7 957.5,160.8 966.5,159.3 975.5,157.3 984.5,156.1 993.5,155.4 1002.5,154.5 1011.5,153.6 1020.5,152.7 1029.5,152.5 1038.5,152.7 1047.5,152.6 1056.5,152.8 1065.5,153.3 1074.5,153.7 1083.5,154.2 1092.5,154.4 1101.5,155.0 1110.5,155.7 1119.5,156.1 1128.5,156.9 1137.5,158.2 1146.5,159.3 1155.5,160.5 1164.5,161.3 1173.5,162.5 1182.5,163.8 1191.5,165.5 1200.5,168.2 1209.5,171.2 1218.5,173.9 1227.5,176.8 1236.5,179.7 1245.5,183.4 1254.5,187.2 1263.5,191.2 1272.5,196.0 1281.5,200.6 1290.5,204.9 1299.5,209.4 1308.5,213.5 1317.5,217.8 1326.5,221.4 1335.5,225.7 1344.5,230.0 1353.5,234.2 1362.5,238.4 1371.5,242.9 1380.5,247.2 1389.5,252.1 1398.5,256.4 1407.5,261.3 1416.5,267.0 1425.5,273.4 1434.5,279.5 1443.5,286.0 1452.5,293.0 1461.5,301.1 1470.5,308.1 1479.5,315.8 1488.5,323.1 1497.5,330.2 1506.5,337.1 1515.5,344.0 1524.5,350.0 1533.5,355.5 1542.5,361.2" fill="none" stroke="#8080ff" stroke-width="1" stroke-linejoin="round"/>
<polyline points="66.5,661.8 75.5,663.2 84.5,660.6 93.5,656.3 102.5,644.0 111.5,649.5 120.5,641.9 129.5,641.5 138.5,635.3 147.5,639.3 156.5,631.3 165.5,639.2 174.5,639.8 183.5,646.0 192.5,651.2 201.5,654.7 210.5,659.6 219.5,662.1 228.5,666.7 237.5,670.7 246.5,670.3 255.5,667.4 264.5,662.6 273.5,655.5 282.5,638.1 291.5,631.9 300.5,626.8 309.5,627.6 318.5,628.8 327.5,641.2 336.5,645.3 345.5,649.3 354.5,661.5 363.5,658.3 372.5,658.2 381.5,661.1 390.5,663.4 399.5,649.5 408.5,652.7 417.5,654.5 426.5,654.2 435.5,659.0 444.5,667.5 453.5,667.3 462.5,667.8 471.5,667.2 480.5,663.4 489.5,660.0 498.5,665.4 507.5,666.5 516.5,668.6 525.5,668.8 534.5,669.7 543.5,668.7 552.5,668.3 561.5,667.7 570.5,668.9 579.5,665.5 588.5,666.4 597.5,665.9 606.5,664.0 615.5,662.1 624.5,665.7 633.5,668.4 642.5,672.9 651.5,674.9 660.5,677.4 669.5,677.4 678.5,675.5 687.5,670.6 696.5,674.2 705.5,674.3 714.5,675.9 723.5,676.2 732.5,678.5 741.5,682.6 750.5,674.5 759.5,673.6 768.5,669.1 777.5,666.7 786.5,657.4 795.5,672.5 804.5,666.5 813.5,665.7 822.5,664.2 831.5,667.4 840.5,658.6 849.5,663.0 858.5,664.2 867.5,658.0 876.5,654.5 885.5,653.8 894.5,656.9 903.5,660.8 912.5,668.1 921.5,667.5 930.5,669.4 939.5,664.0 948.5,658.5 957.5,657.0 966.5,658.1 975.5,654.7 984.5,656.1 993.5,654.3 1002.5,653.8 1011.5,653.2 1020.5,655.2 1029.5,655.2 1038.5,660.8 1047.5,663.1 1056.5,664.3 1065.5,657.1 1074.5,654.3 1083.5,653.1 1092.5,651.6 1101.5,652.6 1110.5,656.4 1119.5,658.6 1128.5,653.5 1137.5,651.1 1146.5,648.3 1155.5,646.7 1164.5,642.5 1173.5,643.9 1182.5,641.5 1191.5,637.7 1200.5,630.3 1209.5,631.3 1218.5,642.8 1227.5,645.0 1236.5,646.3 1245.5,648.3 1254.5,650.3 1263.5,649.0 1272.5,642.0 1281.5,643.4 1290.5,648.4 1299.5,645.9 1308.5,634.0 1317.5,639.2 1326.5,636.9 1335.5,637.5 1344.5,642.2 1353.5,638.3 1362.5,634.3 1371.5,635.3 1380.5,637.5 1389.5,635.6 1398.5,641.7 1407.5,651.8 1416.5,663.6 1425.5,656.9 1434.5,654.3 1443.5,652.7 1452.5,648.9 1461.5,643.9 1470.5,649.4 1479.5,653.0 1488.5,658.0 1497.5,662.8 1506.5,652.9 1515.5,650.7 1524.5,647.1 1533.5,641.1 1542.5,651.3" fill="none" stroke="#ffffff" stroke-width="1" stroke-linejoin="round"/>
<polyline points="66.5,648.8 75.5,653.7 84.5,656.3 93.5,656.8 102.5,652.8 111.5,655.9 120.5,652.8 129.5,651.0 138.5,646.7 147.5,641.7 156.5,640.4 165.5,640.5 174.5,640.6 183.5,640.7 192.5,645.3 201.5,643.0 210.5,649.4 219.5,650.9 228.5,656.4 237.5,661.0 246.5,662.5 255.5,663.5 264.5,662.4 273.5,661.1 282.5,654.4 291.5,651.1 300.5,647.1 309.5,645.1 318.5,642.1 327.5,639.7 336.5,638.6 345.5,638.1 354.5,644.6 363.5,643.5 372.5,649.7 381.5,653.2 390.5,656.4 399.5,655.5 408.5,655.5 417.5,656.3 426.5,657.7 435.5,661.2 444.5,658.5 453.5,660.0 462.5,661.1 471.5,660.7 480.5,661.2 489.5,663.8 498.5,666.4 507.5,667.1 516.5,667.9 525.5,666.1 534.5,664.9 543.5,667.1 552.5,667.4 561.5,668.1 570.5,668.8 579.5,667.6 588.5,667.5 597.5,667.1 606.5,665.8 615.5,665.5 624.5,665.6 633.5,667.4 642.5,669.4 651.5,669.4 660.5,669.7 669.5,671.5 678.5,672.0 687.5,671.8 696.5,674.5 705.5,675.8 714.5,676.7 723.5,675.8 732.5,674.6 741.5,678.4 750.5,674.4 759.5,674.8 768.5,672.6 777.5,672.6 786.5,670.0 795.5,673.5 804.5,670.1 813.5,667.4 822.5,665.4 831.5,662.4 840.5,665.5 849.5,664.8 858.5,665.0 867.5,661.1 876.5,660.9 885.5,656.2 894.5,660.0 903.5,662.5 912.5,663.1 921.5,661.0 930.5,661.6 939.5,660.5 948.5,659.6 957.5,662.6 966.5,662.8 975.5,662.0 984.5,660.0 993.5,656.4 1002.5,655.4 1011.5,655.7 1020.5,655.0 1029.5,655.7 1038.5,657.6 1047.5,658.4 1056.5,658.8 1065.5,656.1 1074.5,654.8 1083.5,657.0 1092.5,657.3 1101.5,658.5 1110.5,656.7 1119.5,656.4 1128.5,653.3 1137.5,651.3 1146.5,650.4 1155.5,651.5 1164.5,650.5 1173.5,648.7 1182.5,646.3 1191.5,643.0 1200.5,638.5 1209.5,636.9 1218.5,643.3 1227.5,643.3 1236.5,642.0 1245.5,639.3 1254.5,640.8 1263.5,645.9 1272.5,643.5 1281.5,644.8 1290.5,648.4 1299.5,648.1 1308.5,641.5 1317.5,640.6 1326.5,640.1 1335.5,642.9 1344.5,644.0 1353.5,636.1 1362.5,636.8 1371.5,636.1 1380.5,637.5 1389.5,638.9 1398.5,640.0 1407.5,643.1 1416.5,649.4 1425.5,647.2 1434.5,645.0 1443.5,647.2 1452.5,650.4 1461.5,653.7 1470.5,653.1 1479.5,653.7 1488.5,655.4 1497.5,655.9 1506.5,648.4 1515.5,650.0 1524.5,650.0 1533.5,649.6 1542.5,657.0" fill="none" stroke="#ffff00" stroke-width="1" stroke-linejoin="round"/>
<polyline points="66.5,764.8 75.5,765.6 84.5,766.9 93.5,771.5 102.5,784.2 111.5,797.3 120.5,807.9 129.5,811.8 138.5,818.0 147.5,826.2 156.5,834.5 165.5,839.6 174.5,844.5 183.5,845.8 192.5,846.9 201.5,846.9 210.5,846.1 219.5,843.2 228.5,840.2 237.5,844.9 246.5,844.0 255.5,844.7 264.5,844.7 273.5,843.1 282.5,831.8 291.5,825.8 300.5,813.6 309.5,800.6 318.5,787.5 327.5,776.3 336.5,767.6 345.5,760.7 354.5,755.0 363.5,754.6 372.5,753.7 381.5,752.9 390.5,752.9 399.5,762.1 408.5,771.1 417.5,778.9 426.5,791.9 435.5,805.5 444.5,813.7 453.5,818.5 462.5,822.3 471.5,826.7 480.5,828.1 489.5,827.0 498.5,824.9 507.5,824.9 516.5,821.8 525.5,824.1 534.5,827.0 543.5,825.8 552.5,825.8 561.5,825.8 570.5,824.1 579.5,830.2 588.5,834.0 597.5,834.0 606.5,835.0 615.5,836.8 624.5,844.0 633.5,847.2 642.5,849.1 651.5,850.9 660.5,849.2 669.5,843.3 678.5,837.5 687.5,831.5 696.5,825.7 705.5,821.9 714.5,815.8 723.5,810.6 732.5,806.3 741.5,802.5 750.5,801.6 759.5,803.7 768.5,806.6 777.5,809.8 786.5,812.7 795.5,808.9 804.5,804.9 813.5,805.8 822.5,806.6 831.5,807.5 840.5,806.8 849.5,801.9 858.5,799.7 867.5,797.6 876.5,791.5 885.5,787.7 894.5,785.8 903.5,783.1 912.5,778.9 921.5,769.8 930.5,764.5 939.5,758.7 948.5,758.7 957.5,759.9 966.5,761.6 975.5,762.8 984.5,769.4 993.5,778.5 1002.5,786.4 1011.5,791.7 1020.5,795.0 1029.5,803.5 1038.5,813.5 1047.5,819.6 1056.5,823.4 1065.5,836.2 1074.5,845.0 1083.5,850.6 1092.5,852.7 1101.5,856.4 1110.5,858.9 1119.5,864.6 1128.5,872.3 1137.5,879.9 1146.5,885.1 1155.5,890.9 1164.5,895.0 1173.5,900.1 1182.5,904.9 1191.5,909.4 1200.5,922.2 1209.5,929.7 1218.5,932.7 1227.5,931.7 1236.5,928.6 1245.5,936.7 1254.5,936.9 1263.5,938.7 1272.5,947.0 1281.5,949.6 1290.5,948.9 1299.5,950.5 1308.5,948.9 1317.5,947.0 1326.5,937.5 1335.5,929.9 1344.5,922.7 1353.5,918.6 1362.5,912.8 1371.5,910.7 1380.5,904.7 1389.5,902.0 1398.5,893.8 1407.5,890.7 1416.5,892.8 1425.5,902.0 1434.5,905.1 1443.5,909.3 1452.5,914.0 1461.5,923.1 1470.5,919.2 1479.5,918.1 1488.5,916.5 1497.5,912.4 1506.5,907.2 1515.5,900.0 1524.5,889.7 1533.5,879.3 1542.5,871.7" fill="none" stroke="#ffffff" stroke-width="1" stroke-linejoin="round"/>
<polyline points="66.5,767.1 75.5,766.8 84.5,766.8 93.5,767.8 102.5,771.0 111.5,776.3 120.5,782.6 129.5,788.5 138.5,794.4 147.5,800.7 156.5,807.5 165.5,813.9 174.5,820.0 183.5,825.2 192.5,829.5 201.5,833.0 210.5,835.6 219.5,837.1 228.5,837.7 237.5,839.2 246.5,840.1 255.5,841.1 264.5,841.8 273.5,842.0 282.5,840.0 291.5,837.2 300.5,832.4 309.5,826.1 318.5,818.4 327.5,809.9 336.5,801.5 345.5,793.3 354.5,785.7 363.5,779.4 372.5,774.3 381.5,770.0 390.5,766.6 399.5,765.7 408.5,766.8 417.5,769.2 426.5,773.7 435.5,780.1 444.5,786.8 453.5,793.2 462.5,799.0 471.5,804.5 480.5,809.2 489.5,812.8 498.5,815.2 507.5,817.2 516.5,818.1 525.5,819.3 534.5,820.8 543.5,821.8 552.5,822.6 561.5,823.3 570.5,823.4 579.5,824.8 588.5,826.6 597.5,828.1 606.5,829.5 615.5,830.9 624.5,833.6 633.5,836.3 642.5,838.8 651.5,841.3 660.5,842.8 669.5,842.9 678.5,841.8 687.5,839.8 696.5,837.0 705.5,834.0 714.5,830.3 723.5,826.4 732.5,822.4 741.5,818.4 750.5,815.0 759.5,812.8 768.5,811.5 777.5,811.2 786.5,811.5 795.5,811.0 804.5,809.8 813.5,809.0 822.5,808.5 831.5,808.3 840.5,808.0 849.5,806.8 858.5,805.4 867.5,803.8 876.5,801.3 885.5,798.6 894.5,796.1 903.5,793.5 912.5,790.6 921.5,786.4 930.5,782.0 939.5,777.4 948.5,773.6 957.5,770.9 966.5,769.0 975.5,767.8 984.5,768.1 993.5,770.2 1002.5,773.4 1011.5,777.1 1020.5,780.7 1029.5,785.2 1038.5,790.9 1047.5,796.6 1056.5,802.0 1065.5,808.8 1074.5,816.1 1083.5,823.0 1092.5,828.9 1101.5,834.4 1110.5,839.3 1119.5,844.4 1128.5,850.0 1137.5,855.9 1146.5,861.8 1155.5,867.6 1164.5,873.1 1173.5,878.5 1182.5,883.8 1191.5,888.9 1200.5,895.6 1209.5,902.4 1218.5,908.4 1227.5,913.1 1236.5,916.2 1245.5,920.3 1254.5,923.6 1263.5,926.6 1272.5,930.7 1281.5,934.5 1290.5,937.4 1299.5,940.0 1308.5,941.8 1317.5,942.8 1326.5,941.8 1335.5,939.4 1344.5,936.0 1353.5,932.6 1362.5,928.6 1371.5,925.0 1380.5,921.0 1389.5,917.2 1398.5,912.5 1407.5,908.1 1416.5,905.1 1425.5,904.5 1434.5,904.6 1443.5,905.5 1452.5,907.2 1461.5,910.4 1470.5,912.2 1479.5,913.3 1488.5,914.0 1497.5,913.7 1506.5,912.4 1515.5,909.9 1524.5,905.9 1533.5,900.5 1542.5,894.8" fill="none" stroke="#ffff00" stroke-width="1" stroke-linejoin="round"/>
<g fill="#c81410" shape-rendering="crispEdges">
<rect x="0" y="18" width="1657" height="1"/>
<rect x="0" y="579" width="1657" height="1"/>
<rect x="0" y="728" width="1657" height="1"/>
<rect x="0" y="729" width="61" height="1"/>
<rect x="0" y="953" width="1658" height="1"/>
<rect x="0" y="952" width="61" height="1"/>
<rect x="61" y="19" width="1" height="950"/>
<rect x="60" y="728" width="1" height="226"/>
<rect x="0" y="728" width="1" height="226"/>
<rect x="1657" y="0" width="1" height="969"/>
<rect x="1658" y="24" width="240" height="1"/>
<rect x="1658" y="29" width="240" height="1"/>
<rect x="1658" y="60" width="240" height="1"/>
<rect x="1658" y="91" width="240" height="1"/>
<rect x="1658" y="192" width="240" height="1"/>
<rect x="1658" y="213" width="240" height="1"/>
</g>
<path d="M1657.5 953 V965.5 Q1657.5 968.5 1660.5 968.5 H1691.5 Q1694.5 968.5 1694.5 965.5 V956.5 Q1694.5 953.5 1697.5 953.5 H1898" fill="none" stroke="#c81410" stroke-width="1"/>
<g shape-rendering="crispEdges">
<rect x="1659" y="25" width="133" height="4" fill="#ff3c3c"/>
<rect x="1792" y="25" width="105" height="4" fill="#00e600"/>
<rect x="1658" y="193" width="240" height="20" fill="#505050"/>
<rect x="1898" y="0" width="2" height="969" fill="#d4cccc"/>
</g>
<g fill="none" stroke="#80c0ff" stroke-width="1" shape-rendering="crispEdges">
<rect x="1606.5" y="1.5" width="15" height="13"/>
<rect x="1623.5" y="1.5" width="15" height="13"/>
<rect x="1640.5" y="1.5" width="15" height="13"/>
<rect x="1881.5" y="1.5" width="15" height="13"/>
<rect x="1884.5" y="4.5" width="9" height="7"/>
<line x1="1884" y1="3.5" x2="1894" y2="3.5"/>
<line x1="1650.5" y1="2" x2="1650.5" y2="15"/>
<line x1="1641" y1="9.5" x2="1650" y2="9.5"/>
<line x1="1652" y1="4.5" x2="1655" y2="4.5"/>
<line x1="1652" y1="6.5" x2="1655" y2="6.5"/>
<line x1="1652" y1="8.5" x2="1655" y2="8.5"/>
<line x1="1652" y1="10.5" x2="1655" y2="10.5"/>
</g>
<g fill="none" stroke="#80c0ff" stroke-width="1">
<path d="M1608.5 7.5 L1612.5 3.5 V5.5 H1619.5 V9.5 H1612.5 V11.5 Z"/>
<path d="M1636.5 7.5 L1632.5 3.5 V5.5 H1625.5 V9.5 H1632.5 V11.5 Z"/>
</g>
<g stroke="#c0c0c0" stroke-width="1" fill="none">
<path d="M928 46.5 H939 M936 44 L938.5 46.5 L936 49"/>
<path d="M1450 560.5 H1461 M1458 558 L1460.5 560.5 L1458 563"/>
</g>
<path d="M1830.3 204 L1832.8 206.6 L1837.5 201.2" fill="none" stroke="#ffff00" stroke-width="1.8"/>
</svg>
<div class="t" style="top:0.5px;font:12px/16px 'Liberation Sans','WenQuanYi Zen Hei','Noto Sans CJK SC',sans-serif;color:#ffffff;left:2.0px;">美原油连<span class="m">(CONC)&lt;</span>日线<span class="m">&gt;</span></div>
<div class="t" style="top:1.0px;font:12px/16px 'Liberation Sans','WenQuanYi Zen Hei','Noto Sans CJK SC',sans-serif;color:#80c0ff;left:1493.0px;text-decoration:underline;">商品叠加</div>
<div class="t" style="top:1.0px;font:12px/16px 'Liberation Sans','WenQuanYi Zen Hei','Noto Sans CJK SC',sans-serif;color:#80c0ff;left:1561.0px;text-decoration:underline;">周期</div>
<div class="t" style="top:20.8px;font:12.4px/16.4px 'Liberation Sans',sans-serif;color:#c0c0c0;left:62.8px;">K</div>
<div class="t" style="top:20.9px;font:12.6px/16.6px 'Liberation Sans',sans-serif;color:#ffffff;left:78.6px;">MA5:47.73</div>
<div class="t" style="top:20.9px;font:12.6px/16.6px 'Liberation Sans',sans-serif;color:#ffff00;left:143.2px;">MA10:46.43</div>
<div class="t" style="top:20.9px;font:12.6px/16.6px 'Liberation Sans',sans-serif;color:#ff00ff;left:213.9px;">MA20:47.84</div>
<div class="t" style="top:20.9px;font:12.6px/16.6px 'Liberation Sans',sans-serif;color:#00e600;left:285.0px;">MA40:50.72</div>
<div class="t" style="top:20.9px;font:12.6px/16.6px 'Liberation Sans',sans-serif;color:#8080ff;left:355.7px;">MA60:55.81</div>
<div class="t" style="top:581.8px;font:12.4px/16.4px 'Liberation Sans',sans-serif;color:#c0c0c0;left:63.2px;letter-spacing:0.3px;">VOL(5,10)</div>
<div class="t" style="top:582.0px;font:12.1px/16.1px 'Liberation Sans',sans-serif;color:#c0c0c0;left:125.2px;">VOLUME:17685.0000</div>
<div class="t" style="top:581.8px;font:12.5px/16.5px 'Liberation Sans',sans-serif;color:#ffffff;left:247.2px;">MAVOL1:640686.4000</div>
<div class="t" style="top:581.8px;font:12.5px/16.5px 'Liberation Sans',sans-serif;color:#ffff00;left:376.8px;">MAVOL2:591929.9000</div>
<div class="t" style="top:730.9px;font:12.2px/16.2px 'Liberation Sans',sans-serif;color:#c0c0c0;left:62.8px;">MACD(12,26,9)</div>
<div class="t" style="top:731.0px;font:12.1px/16.1px 'Liberation Sans',sans-serif;color:#ffffff;left:152.5px;">DIFF:-1.6939</div>
<div class="t" style="top:730.9px;font:12.3px/16.3px 'Liberation Sans',sans-serif;color:#ffff00;left:227.5px;">DEA:-2.3801</div>
<div class="t" style="top:730.9px;font:12.2px/16.2px 'Liberation Sans',sans-serif;color:#c0c0c0;left:301.5px;">MACD:1.3725</div>
<div class="t" style="top:66.8px;font:bold 13.5px/17.5px 'Liberation Sans',sans-serif;color:#c8c8c8;right:1842.5px;">75</div>
<div class="t" style="top:140.8px;font:bold 13.5px/17.5px 'Liberation Sans',sans-serif;color:#c8c8c8;right:1842.5px;">70</div>
<div class="t" style="top:214.8px;font:bold 13.5px/17.5px 'Liberation Sans',sans-serif;color:#c8c8c8;right:1842.5px;">65</div>
<div class="t" style="top:289.8px;font:bold 13.5px/17.5px 'Liberation Sans',sans-serif;color:#c8c8c8;right:1842.5px;">60</div>
<div class="t" style="top:363.8px;font:bold 13.5px/17.5px 'Liberation Sans',sans-serif;color:#c8c8c8;right:1842.5px;">55</div>
<div class="t" style="top:438.8px;font:bold 13.5px/17.5px 'Liberation Sans',sans-serif;color:#c8c8c8;right:1842.5px;">50</div>
<div class="t" style="top:512.8px;font:bold 13.5px/17.5px 'Liberation Sans',sans-serif;color:#c8c8c8;right:1842.5px;">45</div>
<div class="t" style="top:624.0px;font:bold 13px/17px 'Liberation Serif','Noto Serif CJK SC',serif;color:#c8c8c8;right:1842.5px;">80<span style="font-weight:normal">万</span></div>
<div class="t" style="top:671.0px;font:bold 13px/17px 'Liberation Serif','Noto Serif CJK SC',serif;color:#c8c8c8;right:1842.5px;">40<span style="font-weight:normal">万</span></div>
<div class="t" style="top:806.5px;font:bold 13px/17px 'Liberation Serif','Noto Serif CJK SC',serif;color:#c8c8c8;right:1842.0px;">0</div>
<div class="t" style="top:873.0px;font:bold 13px/17px 'Liberation Serif','Noto Serif CJK SC',serif;color:#c8c8c8;right:1841.5px;">-2.0</div>
<div class="t" style="top:38.0px;font:bold 13px/17px 'Liberation Sans',sans-serif;color:#d8d8d8;right:974.0px;letter-spacing:-0.4px;">76.90</div>
<div class="t" style="top:552.0px;font:bold 13px/17px 'Liberation Sans',sans-serif;color:#d8d8d8;right:452.0px;letter-spacing:-0.4px;">42.36</div>
<div class="t" style="top:953.5px;font:12px/16px 'Liberation Sans','WenQuanYi Zen Hei','Noto Sans CJK SC',sans-serif;color:#ffffff;right:1844.0px;">日线</div>
<div class="t" style="top:954.0px;font:11px/15px 'Liberation Sans',sans-serif;color:#e0e0e0;left:62.5px;">201805</div>
<div class="t" style="top:954.0px;font:11px/15px 'Liberation Sans',sans-serif;color:#e0e0e0;left:140.0px;">06</div>
<div class="t" style="top:954.0px;font:11px/15px 'Liberation Sans',sans-serif;color:#e0e0e0;left:329.0px;">07</div>
<div class="t" style="top:954.0px;font:11px/15px 'Liberation Sans',sans-serif;color:#e0e0e0;left:527.0px;">08</div>
<div class="t" style="top:954.0px;font:11px/15px 'Liberation Sans',sans-serif;color:#e0e0e0;left:734.5px;">09</div>
<div class="t" style="top:954.0px;font:11px/15px 'Liberation Sans',sans-serif;color:#e0e0e0;left:914.0px;">10</div>
<div class="t" style="top:954.0px;font:11px/15px 'Liberation Sans',sans-serif;color:#e0e0e0;left:1121.5px;">11</div>
<div class="t" style="top:954.0px;font:11px/15px 'Liberation Sans',sans-serif;color:#e0e0e0;left:1319.0px;">12</div>
<div class="t" style="top:954.0px;font:11px/15px 'Liberation Sans',sans-serif;color:#e0e0e0;left:1487.3px;">201901</div>
<div class="t" style="top:1.5px;font:18.6px/22.6px 'Liberation Serif','Noto Serif CJK SC',serif;color:#ffff00;left:1772.0px;transform:translateX(-50%);">美原油连(CONC)</div>
<div class="t" style="top:36.8px;font:14.5px/18.5px 'Liberation Serif','Noto Serif CJK SC',serif;color:#ffffff;left:1662.5px;">卖出</div>
<div class="t" style="top:67.8px;font:14.5px/18.5px 'Liberation Serif','Noto Serif CJK SC',serif;color:#ffffff;left:1662.5px;">买入</div>
<div class="t" style="top:31.7px;font:bold 23.8px/27.8px 'Liberation Sans',sans-serif;color:#00ff00;left:1716.3px;transform:scaleX(0.93);transform-origin:0 50%;">48.45</div>
<div class="t" style="top:62.7px;font:bold 23.8px/27.8px 'Liberation Sans',sans-serif;color:#00ff00;left:1716.3px;transform:scaleX(0.93);transform-origin:0 50%;">48.44</div>
<div class="t" style="top:31.7px;font:bold 23.8px/27.8px 'Liberation Sans',sans-serif;color:#ffff00;left:1785.0px;transform:scaleX(0.93);transform-origin:0 50%;">7</div>
<div class="t" style="top:62.7px;font:bold 23.8px/27.8px 'Liberation Sans',sans-serif;color:#ffff00;left:1785.0px;transform:scaleX(0.93);transform-origin:0 50%;">9</div>
<div class="t" style="top:93.5px;font:14px/18px 'Liberation Serif','Noto Serif CJK SC',serif;color:#ffffff;left:1663.0px;">最新</div>
<div class="t" style="top:93.5px;font:bold 14px/18px 'Liberation Sans',sans-serif;color:#00ff00;right:129.5px;">48.44</div>
<div class="t" style="top:93.5px;font:14px/18px 'Liberation Serif','Noto Serif CJK SC',serif;color:#ffffff;left:1785.0px;">均价</div>
<div class="t" style="top:93.5px;font:bold 14px/18px 'Liberation Sans',sans-serif;color:#ff4040;right:7.5px;">48.78</div>
<div class="t" style="top:113.5px;font:14px/18px 'Liberation Serif','Noto Serif CJK SC',serif;color:#ffffff;left:1663.0px;">涨跌</div>
<div class="t" style="top:113.5px;font:bold 14px/18px 'Liberation Sans',sans-serif;color:#00ff00;right:129.5px;">-0.08</div>
<div class="t" style="top:113.5px;font:14px/18px 'Liberation Serif','Noto Serif CJK SC',serif;color:#ffffff;left:1785.0px;">昨结</div>
<div class="t" style="top:113.5px;font:bold 14px/18px 'Liberation Sans',sans-serif;color:#ffffff;right:7.5px;">48.52</div>
<div class="t" style="top:133.5px;font:14px/18px 'Liberation Serif','Noto Serif CJK SC',serif;color:#ffffff;left:1663.0px;">幅度</div>
<div class="t" style="top:133.5px;font:bold 14px/18px 'Liberation Sans',sans-serif;color:#00ff00;right:129.5px;">-0.16%</div>
<div class="t" style="top:133.5px;font:14px/18px 'Liberation Serif','Noto Serif CJK SC',serif;color:#ffffff;left:1785.0px;">开盘</div>
<div class="t" style="top:133.5px;font:bold 14px/18px 'Liberation Sans',sans-serif;color:#ff4040;right:7.5px;">48.73</div>
<div class="t" style="top:153.5px;font:14px/18px 'Liberation Serif','Noto Serif CJK SC',serif;color:#ffffff;left:1663.0px;">总手</div>
<div class="t" style="top:153.5px;font:bold 14px/18px 'Liberation Sans',sans-serif;color:#ffff00;right:129.5px;">17822</div>
<div class="t" style="top:153.5px;font:14px/18px 'Liberation Serif','Noto Serif CJK SC',serif;color:#ffffff;left:1785.0px;">最高</div>
<div class="t" style="top:153.5px;font:bold 14px/18px 'Liberation Sans',sans-serif;color:#ff4040;right:7.5px;">48.96</div>
<div class="t" style="top:173.5px;font:14px/18px 'Liberation Serif','Noto Serif CJK SC',serif;color:#ffffff;left:1663.0px;">持仓</div>
<div class="t" style="top:173.5px;font:bold 14px/18px 'Liberation Sans',sans-serif;color:#ffff00;right:129.5px;">367400</div>
<div class="t" style="top:173.5px;font:14px/18px 'Liberation Serif','Noto Serif CJK SC',serif;color:#ffffff;left:1785.0px;">最低</div>
<div class="t" style="top:173.5px;font:bold 14px/18px 'Liberation Sans',sans-serif;color:#00ff00;right:7.5px;">48.39</div>
<div class="t" style="top:195.0px;font:14px/18px 'Liberation Serif','Noto Serif CJK SC',serif;color:#ffffff;left:1663.0px;">单位</div>
<div class="t" style="top:195.0px;font:14px/18px 'Liberation Serif','Noto Serif CJK SC',serif;color:#e8e8e8;left:1736.0px;">元<span class="sl">/</span>吨</div>
<div class="t" style="top:195.0px;font:14px/18px 'Liberation Serif','Noto Serif CJK SC',serif;color:#ffffff;right:7.5px;">美元<span class="sl">/</span>桶</div>
<div class="t" style="top:216.5px;font:14px/18px 'Liberation Serif','Noto Serif CJK SC',serif;color:#808080;left:1663.0px;">北京</div>
<div class="t" style="top:216.5px;font:14px/18px 'Liberation Serif','Noto Serif CJK SC',serif;color:#808080;left:1772.5px;">价格</div>
<div class="t" style="top:216.5px;font:14px/18px 'Liberation Serif','Noto Serif CJK SC',serif;color:#808080;right:7.5px;">现手</div>
<div class="t" style="top:237.5px;font:bold 14px/18px 'Liberation Sans',sans-serif;color:#ffffff;left:1663.5px;">09:34</div>
<div class="t" style="top:237.5px;font:bold 14px/18px 'Liberation Sans',sans-serif;color:#ffffff;right:100.0px;">48.52</div>
<div class="t" style="top:237.5px;font:bold 14px/18px 'Liberation Sans',sans-serif;color:#00ff00;right:7.0px;">1</div>
<div class="t" style="top:261.5px;font:12px/16px 'Liberation Sans',sans-serif;color:#ffffff;left:1680.0px;">:12</div>
<div class="t" style="top:259.5px;font:bold 14px/18px 'Liberation Sans',sans-serif;color:#ffffff;right:100.0px;">48.52</div>
<div class="t" style="top:259.5px;font:bold 14px/18px 'Liberation Sans',sans-serif;color:#ff4040;right:7.0px;">1</div>
<div class="t" style="top:283.5px;font:12px/16px 'Liberation Sans',sans-serif;color:#ffffff;left:1680.0px;">:13</div>
<div class="t" style="top:281.5px;font:bold 14px/18px 'Liberation Sans',sans-serif;color:#ffffff;right:100.0px;">48.52</div>
<div class="t" style="top:281.5px;font:bold 14px/18px 'Liberation Sans',sans-serif;color:#ff4040;right:7.0px;">1</div>
<div class="t" style="top:305.5px;font:12px/16px 'Liberation Sans',sans-serif;color:#ffffff;left:1680.0px;">:14</div>
<div class="t" style="top:303.5px;font:bold 14px/18px 'Liberation Sans',sans-serif;color:#ffffff;right:100.0px;">48.52</div>
<div class="t" style="top:303.5px;font:bold 14px/18px 'Liberation Sans',sans-serif;color:#ff4040;right:7.0px;">16</div>
<div class="t" style="top:327.5px;font:12px/16px 'Liberation Sans',sans-serif;color:#ffffff;left:1680.0px;">:15</div>
<div class="t" style="top:325.5px;font:bold 14px/18px 'Liberation Sans',sans-serif;color:#ffffff;right:100.0px;">48.52</div>
<div class="t" style="top:325.5px;font:bold 14px/18px 'Liberation Sans',sans-serif;color:#ff4040;right:7.0px;">7</div>
<div class="t" style="top:349.5px;font:12px/16px 'Liberation Sans',sans-serif;color:#ffffff;left:1680.0px;">:16</div>
<div class="t" style="top:347.5px;font:bold 14px/18px 'Liberation Sans',sans-serif;color:#ffffff;right:100.0px;">48.52</div>
<div class="t" style="top:347.5px;font:bold 14px/18px 'Liberation Sans',sans-serif;color:#ff4040;right:7.0px;">5</div>
<div class="t" style="top:371.5px;font:12px/16px 'Liberation Sans',sans-serif;color:#ffffff;left:1680.0px;">:16</div>
<div class="t" style="top:369.5px;font:bold 14px/18px 'Liberation Sans',sans-serif;color:#ffffff;right:100.0px;">48.52</div>
<div class="t" style="top:369.5px;font:bold 14px/18px 'Liberation Sans',sans-serif;color:#ff4040;right:7.0px;">15</div>
<div class="t" style="top:393.5px;font:12px/16px 'Liberation Sans',sans-serif;color:#ffffff;left:1680.0px;">:18</div>
<div class="t" style="top:391.5px;font:bold 14px/18px 'Liberation Sans',sans-serif;color:#ff4040;right:100.0px;">48.53</div>
<div class="t" style="top:391.5px;font:bold 14px/18px 'Liberation Sans',sans-serif;color:#ff4040;right:7.0px;">2</div>
<div class="t" style="top:415.5px;font:12px/16px 'Liberation Sans',sans-serif;color:#ffffff;left:1680.0px;">:18</div>
<div class="t" style="top:413.5px;font:bold 14px/18px 'Liberation Sans',sans-serif;color:#ff4040;right:100.0px;">48.53</div>
<div class="t" style="top:413.5px;font:bold 14px/18px 'Liberation Sans',sans-serif;color:#ff4040;right:7.0px;">7</div>
<div class="t" style="top:437.5px;font:12px/16px 'Liberation Sans',sans-serif;color:#ffffff;left:1680.0px;">:20</div>
<div class="t" style="top:435.5px;font:bold 14px/18px 'Liberation Sans',sans-serif;color:#ff4040;right:100.0px;">48.53</div>
<div class="t" style="top:435.5px;font:bold 14px/18px 'Liberation Sans',sans-serif;color:#ff4040;right:7.0px;">6</div>
<div class="t" style="top:459.5px;font:12px/16px 'Liberation Sans',sans-serif;color:#ffffff;left:1680.0px;">:21</div>
<div class="t" style="top:457.5px;font:bold 14px/18px 'Liberation Sans',sans-serif;color:#00ff00;right:100.0px;">48.51</div>
<div class="t" style="top:457.5px;font:bold 14px/18px 'Liberation Sans',sans-serif;color:#00ff00;right:7.0px;">33</div>
<div class="t" style="top:481.5px;font:12px/16px 'Liberation Sans',sans-serif;color:#ffffff;left:1680.0px;">:22</div>
<div class="t" style="top:479.5px;font:bold 14px/18px 'Liberation Sans',sans-serif;color:#00ff00;right:100.0px;">48.51</div>
<div class="t" style="top:479.5px;font:bold 14px/18px 'Liberation Sans',sans-serif;color:#ff4040;right:7.0px;">2</div>
<div class="t" style="top:503.5px;font:12px/16px 'Liberation Sans',sans-serif;color:#ffffff;left:1680.0px;">:23</div>
<div class="t" style="top:501.5px;font:bold 14px/18px 'Liberation Sans',sans-serif;color:#00ff00;right:100.0px;">48.51</div>
<div class="t" style="top:501.5px;font:bold 14px/18px 'Liberation Sans',sans-serif;color:#ff4040;right:7.0px;">1</div>
<div class="t" style="top:525.5px;font:12px/16px 'Liberation Sans',sans-serif;color:#ffffff;left:1680.0px;">:24</div>
<div class="t" style="top:523.5px;font:bold 14px/18px 'Liberation Sans',sans-serif;color:#00ff00;right:100.0px;">48.51</div>
<div class="t" style="top:523.5px;font:bold 14px/18px 'Liberation Sans',sans-serif;color:#00ff00;right:7.0px;">11</div>
<div class="t" style="top:547.5px;font:12px/16px 'Liberation Sans',sans-serif;color:#ffffff;left:1680.0px;">:26</div>
<div class="t" style="top:545.5px;font:bold 14px/18px 'Liberation Sans',sans-serif;color:#ffffff;right:100.0px;">48.52</div>
<div class="t" style="top:545.5px;font:bold 14px/18px 'Liberation Sans',sans-serif;color:#ff4040;right:7.0px;">6</div>
<div class="t" style="top:569.5px;font:12px/16px 'Liberation Sans',sans-serif;color:#ffffff;left:1680.0px;">:27</div>
<div class="t" style="top:567.5px;font:bold 14px/18px 'Liberation Sans',sans-serif;color:#00ff00;right:100.0px;">48.50</div>
<div class="t" style="top:567.5px;font:bold 14px/18px 'Liberation Sans',sans-serif;color:#00ff00;right:7.0px;">11</div>
<div class="t" style="top:591.5px;font:12px/16px 'Liberation Sans',sans-serif;color:#ffffff;left:1680.0px;">:28</div>
<div class="t" style="top:589.5px;font:bold 14px/18px 'Liberation Sans',sans-serif;color:#00ff00;right:100.0px;">48.51</div>
<div class="t" style="top:589.5px;font:bold 14px/18px 'Liberation Sans',sans-serif;color:#ff4040;right:7.0px;">1</div>
<div class="t" style="top:613.5px;font:12px/16px 'Liberation Sans',sans-serif;color:#ffffff;left:1680.0px;">:29</div>
<div class="t" style="top:611.5px;font:bold 14px/18px 'Liberation Sans',sans-serif;color:#00ff00;right:100.0px;">48.51</div>
<div class="t" style="top:611.5px;font:bold 14px/18px 'Liberation Sans',sans-serif;color:#ff4040;right:7.0px;">1</div>
<div class="t" style="top:635.5px;font:12px/16px 'Liberation Sans',sans-serif;color:#ffffff;left:1680.0px;">:30</div>
<div class="t" style="top:633.5px;font:bold 14px/18px 'Liberation Sans',sans-serif;color:#00ff00;right:100.0px;">48.50</div>
<div class="t" style="top:633.5px;font:bold 14px/18px 'Liberation Sans',sans-serif;color:#00ff00;right:7.0px;">3</div>
<div class="t" style="top:657.5px;font:12px/16px 'Liberation Sans',sans-serif;color:#ffffff;left:1680.0px;">:31</div>
<div class="t" style="top:655.5px;font:bold 14px/18px 'Liberation Sans',sans-serif;color:#00ff00;right:100.0px;">48.50</div>
<div class="t" style="top:655.5px;font:bold 14px/18px 'Liberation Sans',sans-serif;color:#00ff00;right:7.0px;">23</div>
<div class="t" style="top:679.5px;font:12px/16px 'Liberation Sans',sans-serif;color:#ffffff;left:1680.0px;">:32</div>
<div class="t" style="top:677.5px;font:bold 14px/18px 'Liberation Sans',sans-serif;color:#00ff00;right:100.0px;">48.48</div>
<div class="t" style="top:677.5px;font:bold 14px/18px 'Liberation Sans',sans-serif;color:#00ff00;right:7.0px;">34</div>
<div class="t" style="top:701.5px;font:12px/16px 'Liberation Sans',sans-serif;color:#ffffff;left:1680.0px;">:33</div>
<div class="t" style="top:699.5px;font:bold 14px/18px 'Liberation Sans',sans-serif;color:#00ff00;right:100.0px;">48.47</div>
<div class="t" style="top:699.5px;font:bold 14px/18px 'Liberation Sans',sans-serif;color:#00ff00;right:7.0px;">34</div>
<div class="t" style="top:723.5px;font:12px/16px 'Liberation Sans',sans-serif;color:#ffffff;left:1680.0px;">:34</div>
<div class="t" style="top:721.5px;font:bold 14px/18px 'Liberation Sans',sans-serif;color:#00ff00;right:100.0px;">48.46</div>
<div class="t" style="top:721.5px;font:bold 14px/18px 'Liberation Sans',sans-serif;color:#00ff00;right:7.0px;">75</div>
<div class="t" style="top:745.5px;font:12px/16px 'Liberation Sans',sans-serif;color:#ffffff;left:1680.0px;">:35</div>
<div class="t" style="top:743.5px;font:bold 14px/18px 'Liberation Sans',sans-serif;color:#00ff00;right:100.0px;">48.45</div>
<div class="t" style="top:743.5px;font:bold 14px/18px 'Liberation Sans',sans-serif;color:#00ff00;right:7.0px;">29</div>
<div class="t" style="top:767.5px;font:12px/16px 'Liberation Sans',sans-serif;color:#ffffff;left:1680.0px;">:36</div>
<div class="t" style="top:765.5px;font:bold 14px/18px 'Liberation Sans',sans-serif;color:#00ff00;right:100.0px;">48.45</div>
<div class="t" style="top:765.5px;font:bold 14px/18px 'Liberation Sans',sans-serif;color:#00ff00;right:7.0px;">2</div>
<div class="t" style="top:789.5px;font:12px/16px 'Liberation Sans',sans-serif;color:#ffffff;left:1680.0px;">:37</div>
<div class="t" style="top:787.5px;font:bold 14px/18px 'Liberation Sans',sans-serif;color:#00ff00;right:100.0px;">48.45</div>
<div class="t" style="top:787.5px;font:bold 14px/18px 'Liberation Sans',sans-serif;color:#00ff00;right:7.0px;">5</div>
<div class="t" style="top:811.5px;font:12px/16px 'Liberation Sans',sans-serif;color:#ffffff;left:1680.0px;">:38</div>
<div class="t" style="top:809.5px;font:bold 14px/18px 'Liberation Sans',sans-serif;color:#00ff00;right:100.0px;">48.46</div>
<div class="t" style="top:809.5px;font:bold 14px/18px 'Liberation Sans',sans-serif;color:#ff4040;right:7.0px;">22</div>
<div class="t" style="top:833.5px;font:12px/16px 'Liberation Sans',sans-serif;color:#ffffff;left:1680.0px;">:39</div>
<div class="t" style="top:831.5px;font:bold 14px/18px 'Liberation Sans',sans-serif;color:#00ff00;right:100.0px;">48.45</div>
<div class="t" style="top:831.5px;font:bold 14px/18px 'Liberation Sans',sans-serif;color:#00ff00;right:7.0px;">5</div>
<div class="t" style="top:855.5px;font:12px/16px 'Liberation Sans',sans-serif;color:#ffffff;left:1680.0px;">:40</div>
<div class="t" style="top:853.5px;font:bold 14px/18px 'Liberation Sans',sans-serif;color:#00ff00;right:100.0px;">48.43</div>
<div class="t" style="top:853.5px;font:bold 14px/18px 'Liberation Sans',sans-serif;color:#00ff00;right:7.0px;">88</div>
<div class="t" style="top:877.5px;font:12px/16px 'Liberation Sans',sans-serif;color:#ffffff;left:1680.0px;">:41</div>
<div class="t" style="top:875.5px;font:bold 14px/18px 'Liberation Sans',sans-serif;color:#00ff00;right:100.0px;">48.42</div>
<div class="t" style="top:875.5px;font:bold 14px/18px 'Liberation Sans',sans-serif;color:#00ff00;right:7.0px;">204</div>
<div class="t" style="top:899.5px;font:12px/16px 'Liberation Sans',sans-serif;color:#ffffff;left:1680.0px;">:42</div>
<div class="t" style="top:897.5px;font:bold 14px/18px 'Liberation Sans',sans-serif;color:#00ff00;right:100.0px;">48.42</div>
<div class="t" style="top:897.5px;font:bold 14px/18px 'Liberation Sans',sans-serif;color:#ff4040;right:7.0px;">15</div>
<div class="t" style="top:921.5px;font:12px/16px 'Liberation Sans',sans-serif;color:#ffffff;left:1680.0px;">:43</div>
<div class="t" style="top:919.5px;font:bold 14px/18px 'Liberation Sans',sans-serif;color:#00ff00;right:100.0px;">48.44</div>
<div class="t" style="top:919.5px;font:bold 14px/18px 'Liberation Sans',sans-serif;color:#ff4040;right:7.0px;">137</div>
<div class="t" style="top:953.5px;font:12px/16px 'Liberation Sans','WenQuanYi Zen Hei','Noto Sans CJK SC',sans-serif;color:#ffffff;left:1669.5px;">笔</div>
<div class="t" style="left:1745px;top:936.5px;font:italic 900 19px/20px 'Liberation Sans','Noto Sans CJK SC',sans-serif;transform:scaleX(1.54);transform-origin:0 0;"><span style="color:#5a1a10">中亿</span><span style="color:#2a2a2a">财经网</span></div>
<div class="t" style="left:1747px;top:952px;font:italic 12px/14px 'Liberation Sans',sans-serif;color:#2e2e2e;letter-spacing:0.1px">www.zhongyi9999.com</div>
</div>
</body></html>
